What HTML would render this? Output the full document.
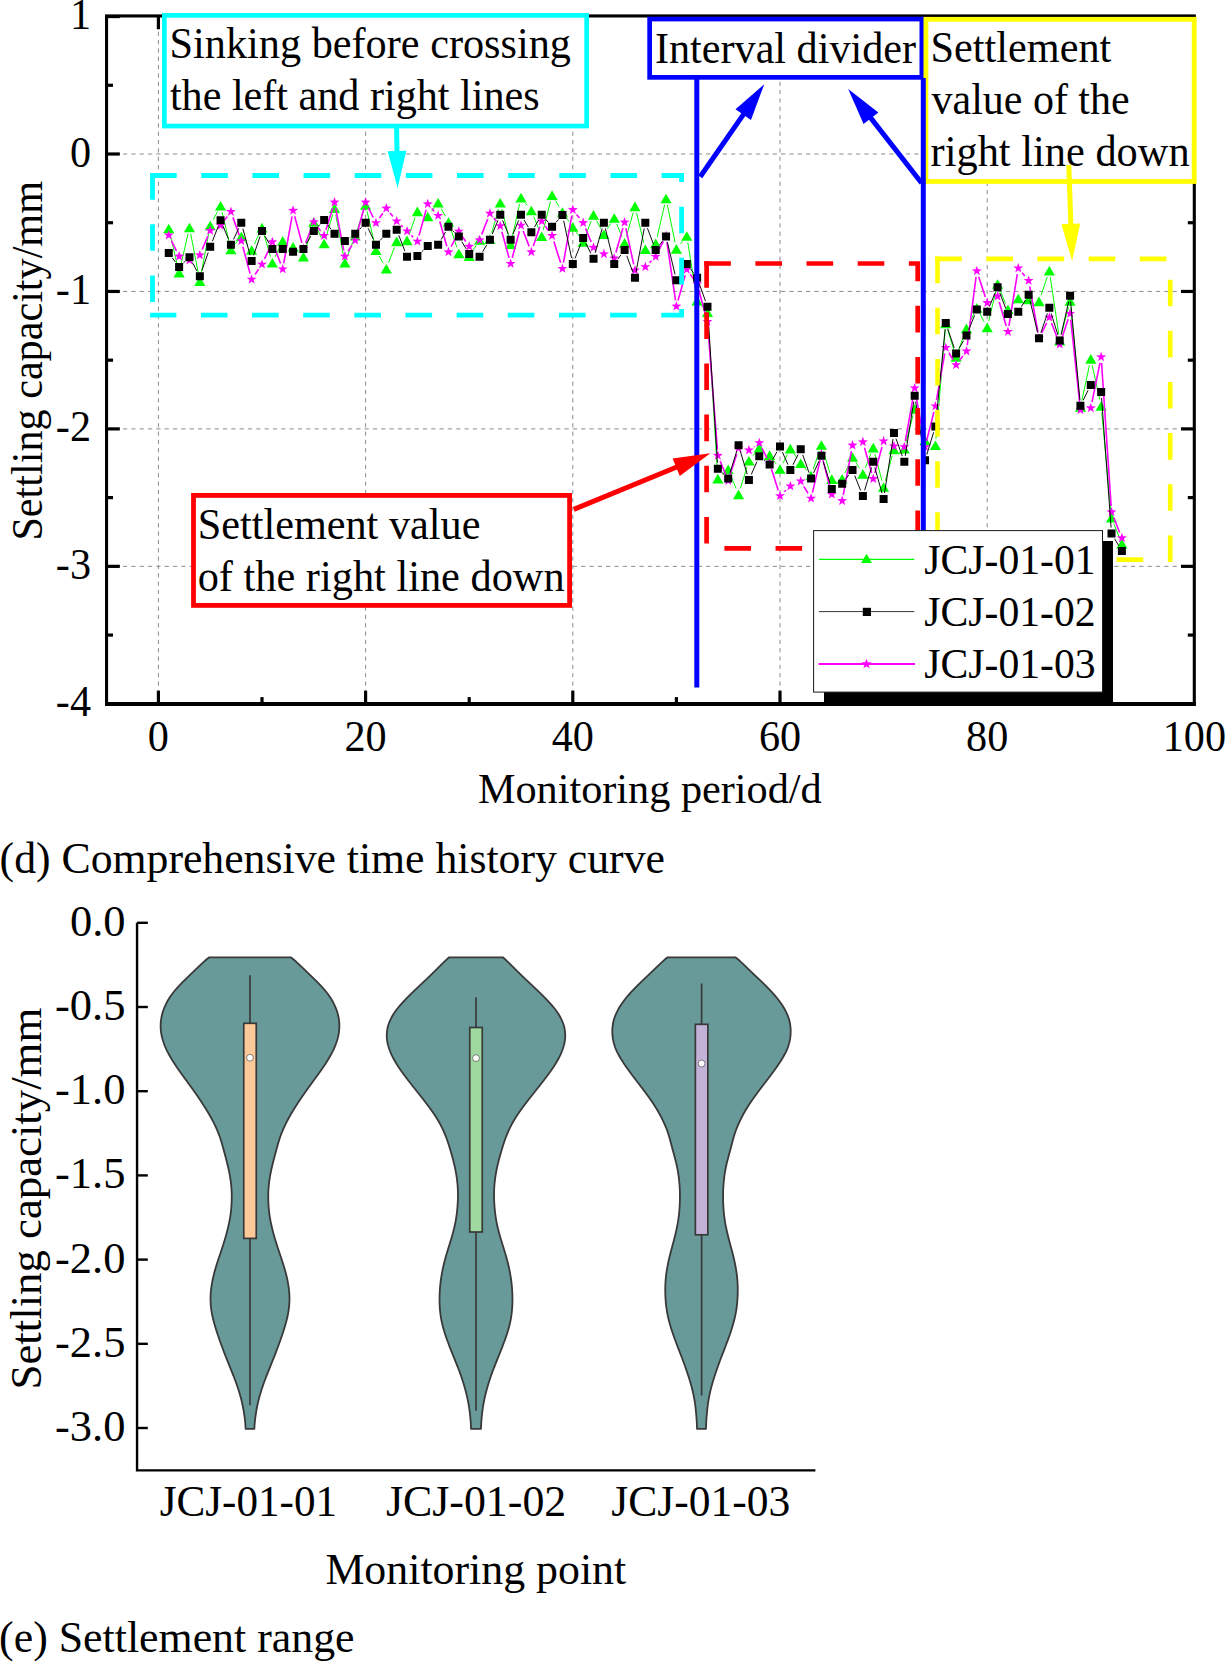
<!DOCTYPE html>
<html><head><meta charset="utf-8"><style>
html,body{margin:0;padding:0;background:#fff;overflow:hidden;}
svg{display:block;}
</style></head><body>
<svg width="1225" height="1662" viewBox="0 0 1225 1662">
<rect width="1225" height="1662" fill="#fff"/>
<g stroke="#8c8c8c" stroke-width="1" stroke-dasharray="4.2 4.13" fill="none"><line x1="158.40" y1="15.05" x2="158.40" y2="702" /><line x1="365.60" y1="15.05" x2="365.60" y2="702" /><line x1="572.80" y1="15.05" x2="572.80" y2="702" /><line x1="780.00" y1="15.05" x2="780.00" y2="702" /><line x1="987.20" y1="15.05" x2="987.20" y2="702" /><line x1="106.34" y1="154.00" x2="1192.4" y2="154.00" /><line x1="106.34" y1="291.45" x2="1192.4" y2="291.45" /><line x1="106.34" y1="428.90" x2="1192.4" y2="428.90" /><line x1="106.34" y1="566.35" x2="1192.4" y2="566.35" /></g>
<g stroke="#000" stroke-width="3.2" fill="none"><line x1="158.40" y1="704.0" x2="158.40" y2="690.7" /><line x1="158.40" y1="15.95" x2="158.40" y2="29.25" /><line x1="262.00" y1="704.0" x2="262.00" y2="697.1" /><line x1="262.00" y1="15.95" x2="262.00" y2="22.85" /><line x1="365.60" y1="704.0" x2="365.60" y2="690.7" /><line x1="365.60" y1="15.95" x2="365.60" y2="29.25" /><line x1="469.20" y1="704.0" x2="469.20" y2="697.1" /><line x1="469.20" y1="15.95" x2="469.20" y2="22.85" /><line x1="572.80" y1="704.0" x2="572.80" y2="690.7" /><line x1="572.80" y1="15.95" x2="572.80" y2="29.25" /><line x1="676.40" y1="704.0" x2="676.40" y2="697.1" /><line x1="676.40" y1="15.95" x2="676.40" y2="22.85" /><line x1="780.00" y1="704.0" x2="780.00" y2="690.7" /><line x1="780.00" y1="15.95" x2="780.00" y2="29.25" /><line x1="883.60" y1="704.0" x2="883.60" y2="697.1" /><line x1="883.60" y1="15.95" x2="883.60" y2="22.85" /><line x1="987.20" y1="704.0" x2="987.20" y2="690.7" /><line x1="987.20" y1="15.95" x2="987.20" y2="29.25" /><line x1="1090.80" y1="704.0" x2="1090.80" y2="697.1" /><line x1="1090.80" y1="15.95" x2="1090.80" y2="22.85" /><line x1="106.55" y1="16.55" x2="119.85" y2="16.55" /><line x1="1194.3" y1="16.55" x2="1181.0" y2="16.55" /><line x1="106.55" y1="85.28" x2="113.05" y2="85.28" /><line x1="1194.3" y1="85.28" x2="1187.8" y2="85.28" /><line x1="106.55" y1="154.00" x2="119.85" y2="154.00" /><line x1="1194.3" y1="154.00" x2="1181.0" y2="154.00" /><line x1="106.55" y1="222.72" x2="113.05" y2="222.72" /><line x1="1194.3" y1="222.72" x2="1187.8" y2="222.72" /><line x1="106.55" y1="291.45" x2="119.85" y2="291.45" /><line x1="1194.3" y1="291.45" x2="1181.0" y2="291.45" /><line x1="106.55" y1="360.17" x2="113.05" y2="360.17" /><line x1="1194.3" y1="360.17" x2="1187.8" y2="360.17" /><line x1="106.55" y1="428.90" x2="119.85" y2="428.90" /><line x1="1194.3" y1="428.90" x2="1181.0" y2="428.90" /><line x1="106.55" y1="497.62" x2="113.05" y2="497.62" /><line x1="1194.3" y1="497.62" x2="1187.8" y2="497.62" /><line x1="106.55" y1="566.35" x2="119.85" y2="566.35" /><line x1="1194.3" y1="566.35" x2="1181.0" y2="566.35" /><line x1="106.55" y1="635.07" x2="113.05" y2="635.07" /><line x1="1194.3" y1="635.07" x2="1187.8" y2="635.07" /><line x1="106.55" y1="703.80" x2="119.85" y2="703.80" /><line x1="1194.3" y1="703.80" x2="1181.0" y2="703.80" /></g>
<rect x="106.55" y="15.95" width="1087.75" height="688.05" fill="none" stroke="#000" stroke-width="3.1"/>
<line x1="105.0" y1="704.0" x2="1195.85" y2="704.0" stroke="#000" stroke-width="3.8"/>
<g font-family='"Liberation Serif", serif' font-size="43.3" fill="#000"><text x="91" y="29.05" text-anchor="end" textLength="21.10" lengthAdjust="spacingAndGlyphs">1</text><text x="91" y="166.50" text-anchor="end" textLength="21.10" lengthAdjust="spacingAndGlyphs">0</text><text x="91" y="303.95" text-anchor="end" textLength="35.15" lengthAdjust="spacingAndGlyphs">-1</text><text x="91" y="441.40" text-anchor="end" textLength="35.15" lengthAdjust="spacingAndGlyphs">-2</text><text x="91" y="578.85" text-anchor="end" textLength="35.15" lengthAdjust="spacingAndGlyphs">-3</text><text x="91" y="716.30" text-anchor="end" textLength="35.15" lengthAdjust="spacingAndGlyphs">-4</text><text x="158.40" y="751.2" text-anchor="middle" textLength="21.10" lengthAdjust="spacingAndGlyphs">0</text><text x="365.60" y="751.2" text-anchor="middle" textLength="42.20" lengthAdjust="spacingAndGlyphs">20</text><text x="572.80" y="751.2" text-anchor="middle" textLength="42.20" lengthAdjust="spacingAndGlyphs">40</text><text x="780.00" y="751.2" text-anchor="middle" textLength="42.20" lengthAdjust="spacingAndGlyphs">60</text><text x="987.20" y="751.2" text-anchor="middle" textLength="42.20" lengthAdjust="spacingAndGlyphs">80</text><text x="1194.40" y="751.2" text-anchor="middle" textLength="63.30" lengthAdjust="spacingAndGlyphs">100</text></g>
<text x="477.9" y="803.4" font-family='"Liberation Serif", serif' font-size="43.0" textLength="343.8" lengthAdjust="spacingAndGlyphs">Monitoring period/d</text>
<text transform="translate(41.6 540.6) rotate(-90)" font-family='"Liberation Serif", serif' font-size="44.4" textLength="359.6" lengthAdjust="spacingAndGlyphs">Settling capacity/mm</text>
<path d="M170.25 234.84L177.63 266.25M180.58 266.24L188.02 233.82M190.71 233.87L198.61 274.77M201.03 274.76L209.01 231.82M213.22 219.68L217.54 211.47M222.06 212.04L229.42 243.11M235.00 244.37L237.20 241.64M245.26 241.71L247.66 244.81M254.38 244.05L259.26 233.55M263.84 233.89L270.52 256.57M275.13 256.93L279.95 246.74M297.77 251.36L298.75 252.30M305.29 250.57L311.95 228.23M316.63 227.85L321.33 237.58M326.00 237.20L332.68 214.52M335.74 214.67L343.66 256.25M347.21 256.57L352.91 241.78M357.31 229.56L363.53 211.02M367.05 211.20L374.51 243.95M379.13 255.96L383.15 263.13M388.62 262.72L394.38 247.46M409.23 234.23L415.21 217.49M431.68 211.33L434.20 207.99M441.21 208.52L445.39 216.28M450.52 228.17L456.80 247.20M472.69 250.81L476.07 245.49M491.70 232.90L498.50 209.05M501.85 209.11L509.07 237.98M512.05 237.94L519.59 204.00M525.08 202.72L527.28 205.45M533.79 216.55L539.29 230.20M543.31 229.93L550.49 201.39M555.47 200.63L559.05 206.46M566.15 217.34L569.09 221.58M576.48 232.28L579.48 236.65M585.48 235.93L591.20 220.99M596.59 220.65L600.81 228.56M607.37 228.80L610.75 223.49M616.74 224.00L622.10 236.86M626.37 236.61L633.19 212.60M636.49 212.66L643.79 242.89M657.14 237.04L664.58 204.79M667.35 204.83L675.09 242.49M680.48 243.80L682.68 241.07M687.79 242.42L696.09 294.22M701.44 305.49L703.16 307.44M707.88 318.78L717.44 472.11M722.65 474.23L723.39 473.57M730.67 475.21L736.09 488.39M740.48 488.19L747.00 467.01M752.97 455.72L755.23 452.88M773.52 460.31L776.12 463.79M782.94 463.20L787.42 454.40M794.10 453.91L796.98 457.99M804.93 468.25L806.87 470.55M813.17 469.35L819.35 451.15M823.33 451.22L829.91 472.88M844.95 472.93L849.73 462.87M855.92 462.54L859.48 468.36M865.26 467.85L870.86 453.65M874.89 453.89L881.95 480.71M885.33 480.73L892.23 455.67M905.97 442.31L913.03 415.29M916.72 415.17L923.00 434.23M935.95 438.82L945.21 329.98M947.68 329.71L954.20 350.79M958.33 350.89L964.27 334.51M969.41 322.60L973.91 313.70M979.89 313.64L984.15 321.66M988.71 321.08L996.05 290.32M1000.02 290.02L1005.46 303.28M1012.42 304.61L1013.78 303.19M1041.08 295.24L1047.28 276.96M1050.31 277.23L1058.77 334.17M1061.37 334.31L1068.43 307.29M1070.71 307.47L1079.81 400.53M1081.81 400.65L1089.43 365.25M1092.20 365.25L1099.76 399.65M1101.76 412.47L1110.92 511.33M1113.93 523.84L1119.47 537.76" stroke="#00ff00" stroke-width="1.0" fill="none"/>
<path d="M168.76 223.72L174.36 233.32L163.16 233.32ZM179.12 267.78L184.72 277.38L173.52 277.38ZM189.48 222.69L195.08 232.29L183.88 232.29ZM199.84 276.35L205.44 285.95L194.24 285.95ZM210.20 220.63L215.80 230.23L204.60 230.23ZM220.56 200.92L226.16 210.52L214.96 210.52ZM230.92 244.63L236.52 254.23L225.32 254.23ZM241.28 231.77L246.88 241.37L235.68 241.37ZM251.64 245.15L257.24 254.75L246.04 254.75ZM262.00 222.86L267.60 232.46L256.40 232.46ZM272.36 258.00L277.96 267.60L266.76 267.60ZM282.72 236.06L288.32 245.66L277.12 245.66ZM293.08 242.06L298.68 251.66L287.48 251.66ZM303.44 252.00L309.04 261.60L297.84 261.60ZM313.80 217.20L319.40 226.80L308.20 226.80ZM324.16 238.63L329.76 248.23L318.56 248.23ZM334.52 203.49L340.12 213.09L328.92 213.09ZM344.88 257.83L350.48 267.43L339.28 267.43ZM355.24 230.92L360.84 240.52L349.64 240.52ZM365.60 200.06L371.20 209.66L360.00 209.66ZM375.96 245.49L381.56 255.09L370.36 255.09ZM386.32 264.01L391.92 273.61L380.72 273.61ZM396.68 236.57L402.28 246.17L391.08 246.17ZM407.04 235.55L412.64 245.15L401.44 245.15ZM417.40 206.57L423.00 216.17L411.80 216.17ZM427.76 211.72L433.36 221.32L422.16 221.32ZM438.12 198.00L443.72 207.60L432.52 207.60ZM448.48 217.20L454.08 226.80L442.88 226.80ZM458.84 248.58L464.44 258.18L453.24 258.18ZM469.20 251.49L474.80 261.09L463.60 261.09ZM479.56 235.20L485.16 244.80L473.96 244.80ZM489.92 234.35L495.52 243.95L484.32 243.95ZM500.28 198.00L505.88 207.60L494.68 207.60ZM510.64 239.49L516.24 249.09L505.04 249.09ZM521.00 192.86L526.60 202.46L515.40 202.46ZM531.36 205.72L536.96 215.32L525.76 215.32ZM541.72 231.43L547.32 241.03L536.12 241.03ZM552.08 190.29L557.68 199.89L546.48 199.89ZM562.44 207.20L568.04 216.80L556.84 216.80ZM572.80 222.12L578.40 231.72L567.20 231.72ZM583.16 237.20L588.76 246.80L577.56 246.80ZM593.52 210.12L599.12 219.72L587.92 219.72ZM603.88 229.49L609.48 239.09L598.28 239.09ZM614.24 213.20L619.84 222.80L608.64 222.80ZM624.60 238.06L630.20 247.66L619.00 247.66ZM634.96 201.54L640.56 211.14L629.36 211.14ZM645.32 244.40L650.92 254.00L639.72 254.00ZM655.68 238.58L661.28 248.18L650.08 248.18ZM666.04 193.66L671.64 203.26L660.44 203.26ZM676.40 244.06L682.00 253.66L670.80 253.66ZM686.76 231.20L692.36 240.80L681.16 240.80ZM697.12 295.84L702.72 305.44L691.52 305.44ZM707.48 307.49L713.08 317.09L701.88 317.09ZM717.84 473.80L723.44 483.40L712.24 483.40ZM728.20 464.40L733.80 474.00L722.60 474.00ZM738.56 489.60L744.16 499.20L732.96 499.20ZM748.92 456.00L754.52 465.60L743.32 465.60ZM759.28 443.00L764.88 452.60L753.68 452.60ZM769.64 450.30L775.24 459.90L764.04 459.90ZM780.00 464.20L785.60 473.80L774.40 473.80ZM790.36 443.80L795.96 453.40L784.76 453.40ZM800.72 458.50L806.32 468.10L795.12 468.10ZM811.08 470.70L816.68 480.30L805.48 480.30ZM821.44 440.20L827.04 449.80L815.84 449.80ZM831.80 474.30L837.40 483.90L826.20 483.90ZM842.16 474.00L847.76 483.60L836.56 483.60ZM852.52 452.20L858.12 461.80L846.92 461.80ZM862.88 469.10L868.48 478.70L857.28 478.70ZM873.24 442.80L878.84 452.40L867.64 452.40ZM883.60 482.20L889.20 491.80L878.00 491.80ZM893.96 444.60L899.56 454.20L888.36 454.20ZM904.32 443.80L909.92 453.40L898.72 453.40ZM914.68 404.20L920.28 413.80L909.08 413.80ZM925.04 435.60L930.64 445.20L919.44 445.20ZM935.40 440.50L941.00 450.10L929.80 450.10ZM945.76 318.70L951.36 328.30L940.16 328.30ZM956.12 352.20L961.72 361.80L950.52 361.80ZM966.48 323.60L972.08 333.20L960.88 333.20ZM976.84 303.10L982.44 312.70L971.24 312.70ZM987.20 322.60L992.80 332.20L981.60 332.20ZM997.56 279.20L1003.16 288.80L991.96 288.80ZM1007.92 304.50L1013.52 314.10L1002.32 314.10ZM1018.28 293.70L1023.88 303.30L1012.68 303.30ZM1028.64 294.70L1034.24 304.30L1023.04 304.30ZM1039.00 296.60L1044.60 306.20L1033.40 306.20ZM1049.36 266.00L1054.96 275.60L1043.76 275.60ZM1059.72 335.80L1065.32 345.40L1054.12 345.40ZM1070.08 296.20L1075.68 305.80L1064.48 305.80ZM1080.44 402.20L1086.04 411.80L1074.84 411.80ZM1090.80 354.10L1096.40 363.70L1085.20 363.70ZM1101.16 401.20L1106.76 410.80L1095.56 410.80ZM1111.52 513.00L1117.12 522.60L1105.92 522.60ZM1121.88 539.00L1127.48 548.60L1116.28 548.60Z" fill="#00ff00"/>
<path d="M171.41 240.59L176.47 250.90M202.18 249.56L207.86 236.10M224.18 220.64L227.30 216.50M232.93 217.37L239.27 235.21M242.84 246.66L250.08 273.64M255.04 274.49L258.60 269.29M264.53 258.91L269.83 247.50M274.50 247.66L280.58 263.54M283.76 263.24L292.04 216.42M294.66 216.31L301.86 242.79M305.62 242.99L311.62 227.59M317.42 226.79L320.54 230.93M325.94 229.99L332.74 208.02M335.65 208.18L343.75 250.40M348.15 251.26L351.97 245.38M356.82 234.56L364.02 208.08M368.30 207.65L373.26 217.50M379.44 217.97L382.84 213.18M390.08 212.96L392.92 216.47M401.01 225.30L402.71 226.93M411.30 235.32L413.14 237.15M419.00 235.59L426.16 209.78M431.75 208.49L434.13 211.17M439.76 221.43L446.84 246.23M451.18 246.65L456.14 236.79M462.24 236.38L465.80 241.57M474.28 243.32L474.48 243.20M481.74 234.41L487.74 219.02M493.75 218.05L496.45 221.32M501.87 231.73L509.05 257.88M512.21 257.87L519.43 231.22M523.18 231.02L529.18 246.41M533.27 246.32L539.81 226.83M545.20 226.04L548.60 230.83M553.88 241.44L560.64 262.85M563.48 262.67L571.76 215.68M576.53 214.47L579.43 218.11M585.48 228.34L591.20 241.96M598.60 250.68L598.80 250.81M615.90 252.52L622.94 228.05M625.87 228.15L633.69 264.43M649.58 262.64L651.42 260.80M658.38 251.22L663.34 241.36M666.91 241.94L675.53 300.36M678.02 300.52L685.14 275.21M690.24 274.32L693.64 279.12M698.71 289.79L705.89 315.94M707.94 327.71L717.38 449.52M720.12 461.05L725.92 475.15M730.02 474.98L736.74 453.92M753.82 446.74L754.38 446.36M762.00 448.25L766.92 457.95M771.46 469.02L778.18 490.18M784.36 491.78L786.00 490.22M803.82 486.34L807.98 493.26M812.45 492.56L820.07 460.14M822.94 460.11L830.30 488.49M836.88 497.49L837.08 497.61M843.26 494.90L851.42 451.20M864.51 447.78L871.61 473.02M874.83 473.02L882.01 446.98M905.36 440.99L913.64 394.11M915.72 394.11L924.00 440.99M926.52 441.08L933.92 411.92M936.45 400.19L944.71 353.51M948.84 352.75L953.04 359.75M959.74 360.11L962.86 355.99M967.25 345.25L976.07 276.95M978.70 276.70L985.34 297.10M992.28 299.61L992.48 299.49M999.25 302.06L1006.23 325.94M1008.89 325.78L1017.31 274.12M1022.13 272.80L1024.79 276.00M1029.70 286.51L1037.94 332.49M1041.65 333.02L1046.71 322.78M1051.51 323.00L1057.57 338.80M1061.63 338.71L1068.17 319.29M1070.72 319.57L1079.80 404.03M1091.99 402.12L1099.97 362.88M1101.56 362.99L1111.12 506.01M1113.74 517.57L1119.66 532.43" stroke="#ff00ff" stroke-width="1.6" fill="none"/>
<path d="M168.76 230.00L169.99 233.50L173.71 233.60L170.76 235.85L171.82 239.41L168.76 237.30L165.70 239.41L166.76 235.85L163.81 233.60L167.53 233.50ZM179.12 251.09L180.35 254.59L184.07 254.68L181.12 256.94L182.18 260.50L179.12 258.39L176.06 260.50L177.12 256.94L174.17 254.68L177.89 254.59ZM189.48 255.03L190.71 258.53L194.43 258.63L191.48 260.88L192.54 264.44L189.48 262.33L186.42 264.44L187.48 260.88L184.53 258.63L188.25 258.53ZM199.84 249.89L201.07 253.39L204.79 253.48L201.84 255.74L202.90 259.30L199.84 257.19L196.78 259.30L197.84 255.74L194.89 253.48L198.61 253.39ZM210.20 225.37L211.43 228.88L215.15 228.97L212.20 231.22L213.26 234.78L210.20 232.67L207.14 234.78L208.20 231.22L205.25 228.97L208.97 228.88ZM220.56 220.23L221.79 223.73L225.51 223.82L222.56 226.08L223.62 229.64L220.56 227.53L217.50 229.64L218.56 226.08L215.61 223.82L219.33 223.73ZM230.92 206.52L232.15 210.02L235.87 210.11L232.92 212.37L233.98 215.92L230.92 213.82L227.86 215.92L228.92 212.37L225.97 210.11L229.69 210.02ZM241.28 235.66L242.51 239.16L246.23 239.25L243.28 241.51L244.34 245.07L241.28 242.96L238.22 245.07L239.28 241.51L236.33 239.25L240.05 239.16ZM251.64 274.23L252.87 277.74L256.59 277.83L253.64 280.08L254.70 283.64L251.64 281.53L248.58 283.64L249.64 280.08L246.69 277.83L250.41 277.74ZM262.00 259.15L263.23 262.65L266.95 262.74L264.00 265.00L265.06 268.55L262.00 266.45L258.94 268.55L260.00 265.00L257.05 262.74L260.77 262.65ZM272.36 236.86L273.59 240.36L277.31 240.45L274.36 242.71L275.42 246.27L272.36 244.16L269.30 246.27L270.36 242.71L267.41 240.45L271.13 240.36ZM282.72 263.95L283.95 267.45L287.67 267.54L284.72 269.80L285.78 273.35L282.72 271.25L279.66 273.35L280.72 269.80L277.77 267.54L281.49 267.45ZM293.08 205.32L294.31 208.82L298.03 208.91L295.08 211.16L296.14 214.72L293.08 212.62L290.02 214.72L291.08 211.16L288.13 208.91L291.85 208.82ZM303.44 243.38L304.67 246.88L308.39 246.97L305.44 249.22L306.50 252.78L303.44 250.68L300.38 252.78L301.44 249.22L298.49 246.97L302.21 246.88ZM313.80 216.80L315.03 220.30L318.75 220.40L315.80 222.65L316.86 226.21L313.80 224.10L310.74 226.21L311.80 222.65L308.85 220.40L312.57 220.30ZM324.16 230.52L325.39 234.02L329.11 234.11L326.16 236.37L327.22 239.92L324.16 237.82L321.10 239.92L322.16 236.37L319.21 234.11L322.93 234.02ZM334.52 197.09L335.75 200.59L339.47 200.68L336.52 202.94L337.58 206.49L334.52 204.39L331.46 206.49L332.52 202.94L329.57 200.68L333.29 200.59ZM344.88 251.09L346.11 254.59L349.83 254.68L346.88 256.94L347.94 260.50L344.88 258.39L341.82 260.50L342.88 256.94L339.93 254.68L343.65 254.59ZM355.24 235.15L356.47 238.65L360.19 238.74L357.24 241.00L358.30 244.55L355.24 242.45L352.18 244.55L353.24 241.00L350.29 238.74L354.01 238.65ZM365.60 197.09L366.83 200.59L370.55 200.68L367.60 202.94L368.66 206.49L365.60 204.39L362.54 206.49L363.60 202.94L360.65 200.68L364.37 200.59ZM375.96 217.66L377.19 221.16L380.91 221.25L377.96 223.51L379.02 227.07L375.96 224.96L372.90 227.07L373.96 223.51L371.01 221.25L374.73 221.16ZM386.32 203.09L387.55 206.59L391.27 206.68L388.32 208.94L389.38 212.49L386.32 210.39L383.26 212.49L384.32 208.94L381.37 206.68L385.09 206.59ZM396.68 215.95L397.91 219.45L401.63 219.54L398.68 221.79L399.74 225.35L396.68 223.25L393.62 225.35L394.68 221.79L391.73 219.54L395.45 219.45ZM407.04 225.89L408.27 229.39L411.99 229.48L409.04 231.74L410.10 235.30L407.04 233.19L403.98 235.30L405.04 231.74L402.09 229.48L405.81 229.39ZM417.40 236.17L418.63 239.68L422.35 239.77L419.40 242.02L420.46 245.58L417.40 243.47L414.34 245.58L415.40 242.02L412.45 239.77L416.17 239.68ZM427.76 198.80L428.99 202.30L432.71 202.39L429.76 204.65L430.82 208.21L427.76 206.10L424.70 208.21L425.76 204.65L422.81 202.39L426.53 202.30ZM438.12 210.46L439.35 213.96L443.07 214.05L440.12 216.31L441.18 219.87L438.12 217.76L435.06 219.87L436.12 216.31L433.17 214.05L436.89 213.96ZM448.48 246.80L449.71 250.31L453.43 250.40L450.48 252.65L451.54 256.21L448.48 254.10L445.42 256.21L446.48 252.65L443.53 250.40L447.25 250.31ZM458.84 226.23L460.07 229.73L463.79 229.82L460.84 232.08L461.90 235.64L458.84 233.53L455.78 235.64L456.84 232.08L453.89 229.82L457.61 229.73ZM469.20 241.32L470.43 244.82L474.15 244.91L471.20 247.17L472.26 250.72L469.20 248.62L466.14 250.72L467.20 247.17L464.25 244.91L467.97 244.82ZM479.56 234.80L480.79 238.30L484.51 238.40L481.56 240.65L482.62 244.21L479.56 242.10L476.50 244.21L477.56 240.65L474.61 238.40L478.33 238.30ZM489.92 208.23L491.15 211.73L494.87 211.82L491.92 214.08L492.98 217.64L489.92 215.53L486.86 217.64L487.92 214.08L484.97 211.82L488.69 211.73ZM500.28 220.75L501.51 224.25L505.23 224.34L502.28 226.59L503.34 230.15L500.28 228.05L497.22 230.15L498.28 226.59L495.33 224.34L499.05 224.25ZM510.64 258.46L511.87 261.96L515.59 262.06L512.64 264.31L513.70 267.87L510.64 265.76L507.58 267.87L508.64 264.31L505.69 262.06L509.41 261.96ZM521.00 220.23L522.23 223.73L525.95 223.82L523.00 226.08L524.06 229.64L521.00 227.53L517.94 229.64L519.00 226.08L516.05 223.82L519.77 223.73ZM531.36 246.80L532.59 250.31L536.31 250.40L533.36 252.65L534.42 256.21L531.36 254.10L528.30 256.21L529.36 252.65L526.41 250.40L530.13 250.31ZM541.72 215.95L542.95 219.45L546.67 219.54L543.72 221.79L544.78 225.35L541.72 223.25L538.66 225.35L539.72 221.79L536.77 219.54L540.49 219.45ZM552.08 230.52L553.31 234.02L557.03 234.11L554.08 236.37L555.14 239.92L552.08 237.82L549.02 239.92L550.08 236.37L547.13 234.11L550.85 234.02ZM562.44 263.38L563.67 266.88L567.39 266.97L564.44 269.23L565.50 272.78L562.44 270.68L559.38 272.78L560.44 269.23L557.49 266.97L561.21 266.88ZM572.80 204.57L574.03 208.07L577.75 208.17L574.80 210.42L575.86 213.98L572.80 211.87L569.74 213.98L570.80 210.42L567.85 208.17L571.57 208.07ZM583.16 217.60L584.39 221.10L588.11 221.20L585.16 223.45L586.22 227.01L583.16 224.90L580.10 227.01L581.16 223.45L578.21 221.20L581.93 221.10ZM593.52 242.29L594.75 245.79L598.47 245.88L595.52 248.14L596.58 251.70L593.52 249.59L590.46 251.70L591.52 248.14L588.57 245.88L592.29 245.79ZM603.88 248.80L605.11 252.31L608.83 252.40L605.88 254.65L606.94 258.21L603.88 256.10L600.82 258.21L601.88 254.65L598.93 252.40L602.65 252.31ZM614.24 253.09L615.47 256.59L619.19 256.68L616.24 258.94L617.30 262.50L614.24 260.39L611.18 262.50L612.24 258.94L609.29 256.68L613.01 256.59ZM624.60 217.09L625.83 220.59L629.55 220.68L626.60 222.94L627.66 226.50L624.60 224.39L621.54 226.50L622.60 222.94L619.65 220.68L623.37 220.59ZM634.96 265.09L636.19 268.59L639.91 268.68L636.96 270.94L638.02 274.50L634.96 272.39L631.90 274.50L632.96 270.94L630.01 268.68L633.73 268.59ZM645.32 261.66L646.55 265.16L650.27 265.26L647.32 267.51L648.38 271.07L645.32 268.96L642.26 271.07L643.32 267.51L640.37 265.26L644.09 265.16ZM655.68 251.38L656.91 254.88L660.63 254.97L657.68 257.23L658.74 260.78L655.68 258.68L652.62 260.78L653.68 257.23L650.73 254.97L654.45 254.88ZM666.04 230.80L667.27 234.30L670.99 234.40L668.04 236.65L669.10 240.21L666.04 238.10L662.98 240.21L664.04 236.65L661.09 234.40L664.81 234.30ZM676.40 301.09L677.63 304.59L681.35 304.69L678.40 306.94L679.46 310.50L676.40 308.39L673.34 310.50L674.40 306.94L671.45 304.69L675.17 304.59ZM686.76 264.23L687.99 267.74L691.71 267.83L688.76 270.08L689.82 273.64L686.76 271.53L683.70 273.64L684.76 270.08L681.81 267.83L685.53 267.74ZM697.12 278.81L698.35 282.31L702.07 282.40L699.12 284.66L700.18 288.21L697.12 286.11L694.06 288.21L695.12 284.66L692.17 282.40L695.89 282.31ZM707.48 316.52L708.71 320.02L712.43 320.12L709.48 322.37L710.54 325.93L707.48 323.82L704.42 325.93L705.48 322.37L702.53 320.12L706.25 320.02ZM717.84 450.30L719.07 453.80L722.79 453.89L719.84 456.15L720.90 459.71L717.84 457.60L714.78 459.71L715.84 456.15L712.89 453.89L716.61 453.80ZM728.20 475.50L729.43 479.00L733.15 479.09L730.20 481.35L731.26 484.91L728.20 482.80L725.14 484.91L726.20 481.35L723.25 479.09L726.97 479.00ZM738.56 443.00L739.79 446.50L743.51 446.59L740.56 448.85L741.62 452.41L738.56 450.30L735.50 452.41L736.56 448.85L733.61 446.59L737.33 446.50ZM748.92 445.00L750.15 448.50L753.87 448.59L750.92 450.85L751.98 454.41L748.92 452.30L745.86 454.41L746.92 450.85L743.97 448.59L747.69 448.50ZM759.28 437.70L760.51 441.20L764.23 441.29L761.28 443.55L762.34 447.11L759.28 445.00L756.22 447.11L757.28 443.55L754.33 441.29L758.05 441.20ZM769.64 458.10L770.87 461.60L774.59 461.69L771.64 463.95L772.70 467.51L769.64 465.40L766.58 467.51L767.64 463.95L764.69 461.69L768.41 461.60ZM780.00 490.70L781.23 494.20L784.95 494.29L782.00 496.55L783.06 500.11L780.00 498.00L776.94 500.11L778.00 496.55L775.05 494.29L778.77 494.20ZM790.36 480.90L791.59 484.40L795.31 484.49L792.36 486.75L793.42 490.31L790.36 488.20L787.30 490.31L788.36 486.75L785.41 484.49L789.13 484.40ZM800.72 476.00L801.95 479.50L805.67 479.59L802.72 481.85L803.78 485.41L800.72 483.30L797.66 485.41L798.72 481.85L795.77 479.59L799.49 479.50ZM811.08 493.20L812.31 496.70L816.03 496.79L813.08 499.05L814.14 502.61L811.08 500.50L808.02 502.61L809.08 499.05L806.13 496.79L809.85 496.70ZM821.44 449.10L822.67 452.60L826.39 452.69L823.44 454.95L824.50 458.51L821.44 456.40L818.38 458.51L819.44 454.95L816.49 452.69L820.21 452.60ZM831.80 489.10L833.03 492.60L836.75 492.69L833.80 494.95L834.86 498.51L831.80 496.40L828.74 498.51L829.80 494.95L826.85 492.69L830.57 492.60ZM842.16 495.60L843.39 499.10L847.11 499.19L844.16 501.45L845.22 505.01L842.16 502.90L839.10 505.01L840.16 501.45L837.21 499.19L840.93 499.10ZM852.52 440.10L853.75 443.60L857.47 443.69L854.52 445.95L855.58 449.51L852.52 447.40L849.46 449.51L850.52 445.95L847.57 443.69L851.29 443.60ZM862.88 436.80L864.11 440.30L867.83 440.39L864.88 442.65L865.94 446.21L862.88 444.10L859.82 446.21L860.88 442.65L857.93 440.39L861.65 440.30ZM873.24 473.60L874.47 477.10L878.19 477.19L875.24 479.45L876.30 483.01L873.24 480.90L870.18 483.01L871.24 479.45L868.29 477.19L872.01 477.10ZM883.60 436.00L884.83 439.50L888.55 439.59L885.60 441.85L886.66 445.41L883.60 443.30L880.54 445.41L881.60 441.85L878.65 439.59L882.37 439.50ZM893.96 440.90L895.19 444.40L898.91 444.49L895.96 446.75L897.02 450.31L893.96 448.20L890.90 450.31L891.96 446.75L889.01 444.49L892.73 444.40ZM904.32 441.70L905.55 445.20L909.27 445.29L906.32 447.55L907.38 451.11L904.32 449.00L901.26 451.11L902.32 447.55L899.37 445.29L903.09 445.20ZM914.68 383.00L915.91 386.50L919.63 386.59L916.68 388.85L917.74 392.41L914.68 390.30L911.62 392.41L912.68 388.85L909.73 386.59L913.45 386.50ZM925.04 441.70L926.27 445.20L929.99 445.29L927.04 447.55L928.10 451.11L925.04 449.00L921.98 451.11L923.04 447.55L920.09 445.29L923.81 445.20ZM935.40 400.90L936.63 404.40L940.35 404.49L937.40 406.75L938.46 410.31L935.40 408.20L932.34 410.31L933.40 406.75L930.45 404.49L934.17 404.40ZM945.76 342.40L946.99 345.90L950.71 345.99L947.76 348.25L948.82 351.81L945.76 349.70L942.70 351.81L943.76 348.25L940.81 345.99L944.53 345.90ZM956.12 359.70L957.35 363.20L961.07 363.29L958.12 365.55L959.18 369.11L956.12 367.00L953.06 369.11L954.12 365.55L951.17 363.29L954.89 363.20ZM966.48 346.00L967.71 349.50L971.43 349.59L968.48 351.85L969.54 355.41L966.48 353.30L963.42 355.41L964.48 351.85L961.53 349.59L965.25 349.50ZM976.84 265.80L978.07 269.30L981.79 269.39L978.84 271.65L979.90 275.21L976.84 273.10L973.78 275.21L974.84 271.65L971.89 269.39L975.61 269.30ZM987.20 297.60L988.43 301.10L992.15 301.19L989.20 303.45L990.26 307.01L987.20 304.90L984.14 307.01L985.20 303.45L982.25 301.19L985.97 301.10ZM997.56 291.10L998.79 294.60L1002.51 294.69L999.56 296.95L1000.62 300.51L997.56 298.40L994.50 300.51L995.56 296.95L992.61 294.69L996.33 294.60ZM1007.92 326.50L1009.15 330.00L1012.87 330.09L1009.92 332.35L1010.98 335.91L1007.92 333.80L1004.86 335.91L1005.92 332.35L1002.97 330.09L1006.69 330.00ZM1018.28 263.00L1019.51 266.50L1023.23 266.59L1020.28 268.85L1021.34 272.41L1018.28 270.30L1015.22 272.41L1016.28 268.85L1013.33 266.59L1017.05 266.50ZM1028.64 275.40L1029.87 278.90L1033.59 278.99L1030.64 281.25L1031.70 284.81L1028.64 282.70L1025.58 284.81L1026.64 281.25L1023.69 278.99L1027.41 278.90ZM1039.00 333.20L1040.23 336.70L1043.95 336.79L1041.00 339.05L1042.06 342.61L1039.00 340.50L1035.94 342.61L1037.00 339.05L1034.05 336.79L1037.77 336.70ZM1049.36 312.20L1050.59 315.70L1054.31 315.79L1051.36 318.05L1052.42 321.61L1049.36 319.50L1046.30 321.61L1047.36 318.05L1044.41 315.79L1048.13 315.70ZM1059.72 339.20L1060.95 342.70L1064.67 342.79L1061.72 345.05L1062.78 348.61L1059.72 346.50L1056.66 348.61L1057.72 345.05L1054.77 342.79L1058.49 342.70ZM1070.08 308.40L1071.31 311.90L1075.03 311.99L1072.08 314.25L1073.14 317.81L1070.08 315.70L1067.02 317.81L1068.08 314.25L1065.13 311.99L1068.85 311.90ZM1080.44 404.80L1081.67 408.30L1085.39 408.39L1082.44 410.65L1083.50 414.21L1080.44 412.10L1077.38 414.21L1078.44 410.65L1075.49 408.39L1079.21 408.30ZM1090.80 402.80L1092.03 406.30L1095.75 406.39L1092.80 408.65L1093.86 412.21L1090.80 410.10L1087.74 412.21L1088.80 408.65L1085.85 406.39L1089.57 406.30ZM1101.16 351.80L1102.39 355.30L1106.11 355.39L1103.16 357.65L1104.22 361.21L1101.16 359.10L1098.10 361.21L1099.16 357.65L1096.21 355.39L1099.93 355.30ZM1111.52 506.80L1112.75 510.30L1116.47 510.39L1113.52 512.65L1114.58 516.21L1111.52 514.10L1108.46 516.21L1109.52 512.65L1106.57 510.39L1110.29 510.30ZM1121.88 532.80L1123.11 536.30L1126.83 536.39L1123.88 538.65L1124.94 542.21L1121.88 540.10L1118.82 542.21L1119.88 538.65L1116.93 536.39L1120.65 536.30Z" fill="#ff00ff"/>
<path d="M172.35 257.84L175.53 262.11M183.48 262.80L185.12 261.26M192.33 262.43L196.99 271.07M201.83 270.69L208.21 252.52M212.38 241.27L218.38 225.88M222.90 225.81L228.58 239.28M233.48 239.38L238.72 228.29M242.86 228.65L250.06 255.13M253.60 255.25L260.04 236.59M264.99 236.12L269.37 243.72M306.43 243.72L310.81 236.12M317.95 226.59L320.01 224.45M327.78 224.90L330.90 229.04M339.45 237.26L339.95 237.61M349.81 237.61L350.31 237.26M359.36 229.47L361.48 227.22M368.16 228.29L373.40 239.38M380.08 240.44L382.20 238.19M398.82 235.32L404.90 251.20M421.73 251.79L423.43 250.16M441.11 239.60L445.49 232.00M452.84 230.92L454.48 232.46M461.90 241.74L466.14 248.90M482.66 251.67L486.82 244.80M492.23 234.12L497.97 220.34M502.59 220.34L508.33 234.12M512.95 234.12L518.69 220.34M524.06 219.96L528.30 227.13M534.42 227.13L538.66 219.96M545.64 219.34L548.16 222.26M556.02 222.28L558.50 219.44M563.68 220.79L571.56 258.08M575.03 258.38L580.93 243.63M585.86 243.42L590.82 253.27M595.18 252.87L602.22 228.40M605.34 228.45L612.78 258.13M617.83 259.14L621.01 254.87M626.71 255.68L632.85 272.05M636.07 271.77L644.21 228.53M647.44 228.24L653.56 244.45M659.33 245.30L662.39 241.28M667.42 242.36L675.02 274.40M679.62 275.17L683.54 269.01M690.38 268.74L693.50 272.88M699.13 283.32L705.47 301.15M707.86 312.80L717.46 462.71M722.18 472.85L723.86 474.45M729.98 472.87L736.78 451.03M740.28 451.05L747.20 474.15M751.32 474.40L756.88 461.70M763.98 459.92L764.94 460.68M772.66 459.21L776.98 451.79M782.42 452.09L787.94 464.61M793.02 464.72L798.06 454.58M802.73 454.85L809.07 472.75M813.58 472.95L818.94 461.25M823.23 461.53L830.01 483.17M845.78 478.91L848.90 474.79M854.73 475.58L860.67 490.52M864.61 490.36L871.51 467.54M874.85 467.58L881.99 493.12M884.53 492.97L893.03 438.93M895.99 438.65L902.29 456.15M905.25 455.87L913.75 401.73M915.63 401.72L924.09 454.38M926.80 454.56L933.64 432.24M936.00 420.53L945.16 328.97M947.68 328.68L954.20 347.92M959.11 348.40L963.49 340.80M968.70 330.03L974.62 315.17M989.53 306.27L995.23 292.73M999.72 292.80L1005.76 308.40M1021.40 306.68L1025.52 299.92M1030.03 300.64L1037.61 332.46M1040.93 332.62L1047.43 313.48M1051.17 313.52L1057.91 334.88M1061.07 334.75L1068.73 301.55M1070.64 301.67L1079.88 399.73M1083.12 400.33L1088.12 390.27M1095.75 388.29L1096.21 388.61M1101.60 397.98L1111.08 527.62M1114.59 538.76L1118.81 545.84" stroke="#000" stroke-width="0.95" fill="none"/>
<path d="M164.76 249.03h8.0v8.0h-8.0ZM175.12 262.92h8.0v8.0h-8.0ZM185.48 253.15h8.0v8.0h-8.0ZM195.84 272.35h8.0v8.0h-8.0ZM206.20 242.86h8.0v8.0h-8.0ZM216.56 216.29h8.0v8.0h-8.0ZM226.92 240.80h8.0v8.0h-8.0ZM237.28 218.86h8.0v8.0h-8.0ZM247.64 256.92h8.0v8.0h-8.0ZM258.00 226.92h8.0v8.0h-8.0ZM268.36 244.92h8.0v8.0h-8.0ZM278.72 244.92h8.0v8.0h-8.0ZM289.08 247.66h8.0v8.0h-8.0ZM299.44 244.92h8.0v8.0h-8.0ZM309.80 226.92h8.0v8.0h-8.0ZM320.16 216.12h8.0v8.0h-8.0ZM330.52 229.83h8.0v8.0h-8.0ZM340.88 237.03h8.0v8.0h-8.0ZM351.24 229.83h8.0v8.0h-8.0ZM361.60 218.86h8.0v8.0h-8.0ZM371.96 240.80h8.0v8.0h-8.0ZM382.32 229.83h8.0v8.0h-8.0ZM392.68 225.72h8.0v8.0h-8.0ZM403.04 252.80h8.0v8.0h-8.0ZM413.40 251.95h8.0v8.0h-8.0ZM423.76 242.00h8.0v8.0h-8.0ZM434.12 240.80h8.0v8.0h-8.0ZM444.48 222.80h8.0v8.0h-8.0ZM454.84 232.57h8.0v8.0h-8.0ZM465.20 250.06h8.0v8.0h-8.0ZM475.56 252.80h8.0v8.0h-8.0ZM485.92 235.66h8.0v8.0h-8.0ZM496.28 210.80h8.0v8.0h-8.0ZM506.64 235.66h8.0v8.0h-8.0ZM517.00 210.80h8.0v8.0h-8.0ZM527.36 228.29h8.0v8.0h-8.0ZM537.72 210.80h8.0v8.0h-8.0ZM548.08 222.80h8.0v8.0h-8.0ZM558.44 210.92h8.0v8.0h-8.0ZM568.80 259.95h8.0v8.0h-8.0ZM579.16 234.06h8.0v8.0h-8.0ZM589.52 254.63h8.0v8.0h-8.0ZM599.88 218.63h8.0v8.0h-8.0ZM610.24 259.95h8.0v8.0h-8.0ZM620.60 246.06h8.0v8.0h-8.0ZM630.96 273.66h8.0v8.0h-8.0ZM641.32 218.63h8.0v8.0h-8.0ZM651.68 246.06h8.0v8.0h-8.0ZM662.04 232.52h8.0v8.0h-8.0ZM672.40 276.23h8.0v8.0h-8.0ZM682.76 259.95h8.0v8.0h-8.0ZM693.12 273.66h8.0v8.0h-8.0ZM703.48 302.81h8.0v8.0h-8.0ZM713.84 464.70h8.0v8.0h-8.0ZM724.20 474.60h8.0v8.0h-8.0ZM734.56 441.30h8.0v8.0h-8.0ZM744.92 475.90h8.0v8.0h-8.0ZM755.28 452.20h8.0v8.0h-8.0ZM765.64 460.40h8.0v8.0h-8.0ZM776.00 442.60h8.0v8.0h-8.0ZM786.36 466.10h8.0v8.0h-8.0ZM796.72 445.20h8.0v8.0h-8.0ZM807.08 474.40h8.0v8.0h-8.0ZM817.44 451.80h8.0v8.0h-8.0ZM827.80 484.90h8.0v8.0h-8.0ZM838.16 479.70h8.0v8.0h-8.0ZM848.52 466.00h8.0v8.0h-8.0ZM858.88 492.10h8.0v8.0h-8.0ZM869.24 457.80h8.0v8.0h-8.0ZM879.60 494.90h8.0v8.0h-8.0ZM889.96 429.00h8.0v8.0h-8.0ZM900.32 457.80h8.0v8.0h-8.0ZM910.68 391.80h8.0v8.0h-8.0ZM921.04 456.30h8.0v8.0h-8.0ZM931.40 422.50h8.0v8.0h-8.0ZM941.76 319.00h8.0v8.0h-8.0ZM952.12 349.60h8.0v8.0h-8.0ZM962.48 331.60h8.0v8.0h-8.0ZM972.84 305.60h8.0v8.0h-8.0ZM983.20 307.80h8.0v8.0h-8.0ZM993.56 283.20h8.0v8.0h-8.0ZM1003.92 310.00h8.0v8.0h-8.0ZM1014.28 307.80h8.0v8.0h-8.0ZM1024.64 290.80h8.0v8.0h-8.0ZM1035.00 334.30h8.0v8.0h-8.0ZM1045.36 303.80h8.0v8.0h-8.0ZM1055.72 336.60h8.0v8.0h-8.0ZM1066.08 291.70h8.0v8.0h-8.0ZM1076.44 401.70h8.0v8.0h-8.0ZM1086.80 380.90h8.0v8.0h-8.0ZM1097.16 388.00h8.0v8.0h-8.0ZM1107.52 529.60h8.0v8.0h-8.0ZM1117.88 547.00h8.0v8.0h-8.0Z" fill="#000"/>
<path d="M150.10 175.50H681.60V315.20H150.10" fill="none" stroke="#00ffff" stroke-width="4.8" stroke-dasharray="26.6 24.55" stroke-linejoin="miter"/><path d="M152.50 173.10V317.60" fill="none" stroke="#00ffff" stroke-width="4.8" stroke-dasharray="26.6 24.55"/>
<path d="M704.25 263.50H917.70V548.30H704.25" fill="none" stroke="#ff0000" stroke-width="4.7" stroke-dasharray="26.6 24.55" stroke-linejoin="miter"/><path d="M706.60 261.15V550.65" fill="none" stroke="#ff0000" stroke-width="4.7" stroke-dasharray="26.6 24.55"/>
<path d="M935.20 258.90H1170.20V559.60H935.20" fill="none" stroke="#ffff00" stroke-width="4.6" stroke-dasharray="26.6 24.55" stroke-linejoin="miter"/><path d="M937.50 256.60V561.90" fill="none" stroke="#ffff00" stroke-width="4.6" stroke-dasharray="26.6 24.55"/>
<rect x="164.35" y="15.35" width="422.30" height="110.70" fill="#fff" stroke="#00ffff" stroke-width="4.7"/>
<rect x="649.65" y="19.05" width="272.20" height="58.30" fill="#fff" stroke="#0000ff" stroke-width="4.7"/>
<rect x="925.90" y="19.30" width="268.30" height="162.20" fill="#fff" stroke="#ffff00" stroke-width="4.8"/>
<rect x="193.50" y="495.40" width="376.10" height="110.00" fill="#fff" stroke="#ff0000" stroke-width="4.8"/>
<g stroke="#0000ff" stroke-width="5.0" fill="none"><line x1="696.8" y1="78" x2="696.8" y2="687.5"/><line x1="923.3" y1="78" x2="923.3" y2="700"/></g>
<text x="169.6" y="58.3" font-family='"Liberation Serif", serif' font-size="43.3" textLength="401.4" lengthAdjust="spacingAndGlyphs">Sinking before crossing</text>
<text x="169.9" y="110.1" font-family='"Liberation Serif", serif' font-size="43.3" textLength="369.8" lengthAdjust="spacingAndGlyphs">the left and right lines</text>
<text x="655.0" y="63.0" font-family='"Liberation Serif", serif' font-size="43.3" textLength="261.0" lengthAdjust="spacingAndGlyphs">Interval divider</text>
<text x="930.6" y="61.6" font-family='"Liberation Serif", serif' font-size="43.3" textLength="180.7" lengthAdjust="spacingAndGlyphs">Settlement</text>
<text x="931.6" y="114.0" font-family='"Liberation Serif", serif' font-size="43.3" textLength="198.0" lengthAdjust="spacingAndGlyphs">value of the</text>
<text x="930.6" y="166.1" font-family='"Liberation Serif", serif' font-size="43.3" textLength="259.0" lengthAdjust="spacingAndGlyphs">right line down</text>
<text x="197.7" y="538.6" font-family='"Liberation Serif", serif' font-size="43.3" textLength="282.7" lengthAdjust="spacingAndGlyphs">Settlement value</text>
<text x="197.7" y="590.6" font-family='"Liberation Serif", serif' font-size="43.3" textLength="366.9" lengthAdjust="spacingAndGlyphs">of the right line down</text>
<line x1="700.20" y1="176.70" x2="744.35" y2="113.06" stroke="#0000ff" stroke-width="5.0"/><path d="M764.30 84.30L750.93 120.06L735.49 109.34Z" fill="#0000ff"/>
<line x1="921.60" y1="183.00" x2="869.74" y2="116.59" stroke="#0000ff" stroke-width="5.0"/><path d="M848.20 89.00L878.38 112.38L863.56 123.95Z" fill="#0000ff"/>
<line x1="573.80" y1="509.40" x2="678.03" y2="466.52" stroke="#ff0000" stroke-width="5.0"/><path d="M710.40 453.20L679.76 475.97L672.61 458.58Z" fill="#ff0000"/>
<line x1="396.60" y1="128.00" x2="397.02" y2="153.00" stroke="#00ffff" stroke-width="5.0"/><path d="M397.60 188.00L387.58 151.16L406.38 150.85Z" fill="#00ffff"/>
<line x1="1068.80" y1="165.00" x2="1070.90" y2="225.92" stroke="#ffff00" stroke-width="5.0"/><path d="M1072.10 260.90L1061.43 224.25L1080.22 223.60Z" fill="#ffff00"/>
<rect x="824" y="541" width="289" height="162" fill="#000"/>
<rect x="813.6" y="530.6" width="288.9" height="161.5" fill="#fff" stroke="#1a1a1a" stroke-width="1.0"/>
<line x1="819" y1="559.4" x2="914.3" y2="559.4" stroke="#00ff00" stroke-width="1.1"/>
<path d="M866.50 553.65L872.00 562.95L861.00 562.95Z" fill="#00ff00"/>
<line x1="819" y1="611.6" x2="914.3" y2="611.6" stroke="#000" stroke-width="0.8"/>
<path d="M862.80 607.80h8.2v8.2h-8.2Z" fill="#000"/>
<line x1="818.5" y1="664" x2="915" y2="664" stroke="#ff00ff" stroke-width="1.8"/>
<path d="M866.50 658.70L867.76 662.26L871.54 662.36L868.54 664.66L869.62 668.29L866.50 666.15L863.38 668.29L864.46 664.66L861.46 662.36L865.24 662.26Z" fill="#ff00ff"/>
<text x="924.3" y="573.5" font-family='"Liberation Serif", serif' font-size="42.4" textLength="171.4" lengthAdjust="spacingAndGlyphs">JCJ-01-01</text>
<text x="924.3" y="625.6" font-family='"Liberation Serif", serif' font-size="42.4" textLength="171.4" lengthAdjust="spacingAndGlyphs">JCJ-01-02</text>
<text x="924.3" y="678.0" font-family='"Liberation Serif", serif' font-size="42.4" textLength="171.4" lengthAdjust="spacingAndGlyphs">JCJ-01-03</text>
<text x="-0.4" y="872.9" font-family='"Liberation Serif", serif' font-size="45.0" textLength="665.3" lengthAdjust="spacingAndGlyphs">(d) Comprehensive time history curve</text>
<path d="M290.65 957.30L291.99 958.30L293.26 959.30L294.48 960.30L295.65 961.30L296.78 962.30L297.89 963.30L298.97 964.30L300.04 965.30L301.09 966.30L302.14 967.30L303.19 968.30L304.23 969.30L305.27 970.30L306.31 971.30L307.35 972.30L308.38 973.30L309.42 974.30L310.46 975.30L311.50 976.30L312.53 977.30L313.56 978.30L314.59 979.30L315.60 980.30L316.61 981.30L317.60 982.30L318.58 983.30L319.54 984.30L320.48 985.30L321.41 986.30L322.32 987.30L323.20 988.30L324.07 989.30L324.91 990.30L325.73 991.30L326.53 992.30L327.30 993.30L328.05 994.30L328.78 995.30L329.47 996.30L330.15 997.30L330.80 998.30L331.42 999.30L332.02 1000.30L332.59 1001.30L333.14 1002.30L333.66 1003.30L334.16 1004.30L334.64 1005.30L335.09 1006.30L335.52 1007.30L335.92 1008.30L336.30 1009.30L336.66 1010.30L337.00 1011.30L337.31 1012.30L337.60 1013.30L337.87 1014.30L338.11 1015.30L338.34 1016.30L338.54 1017.30L338.72 1018.30L338.88 1019.30L339.01 1020.30L339.12 1021.30L339.22 1022.30L339.29 1023.30L339.33 1024.30L339.36 1025.30L339.36 1026.30L339.35 1027.30L339.31 1028.30L339.24 1029.30L339.16 1030.30L339.06 1031.30L338.93 1032.30L338.78 1033.30L338.61 1034.30L338.42 1035.30L338.20 1036.30L337.97 1037.30L337.71 1038.30L337.44 1039.30L337.14 1040.30L336.83 1041.30L336.50 1042.30L336.14 1043.30L335.77 1044.30L335.38 1045.30L334.98 1046.30L334.55 1047.30L334.11 1048.30L333.66 1049.30L333.18 1050.30L332.70 1051.30L332.19 1052.30L331.68 1053.30L331.15 1054.30L330.60 1055.30L330.04 1056.30L329.47 1057.30L328.89 1058.30L328.29 1059.30L327.68 1060.30L327.06 1061.30L326.43 1062.30L325.79 1063.30L325.15 1064.30L324.49 1065.30L323.82 1066.30L323.14 1067.30L322.46 1068.30L321.77 1069.30L321.07 1070.30L320.37 1071.30L319.66 1072.30L318.95 1073.30L318.23 1074.30L317.51 1075.30L316.78 1076.30L316.05 1077.30L315.32 1078.30L314.59 1079.30L313.86 1080.30L313.13 1081.30L312.40 1082.30L311.67 1083.30L310.94 1084.30L310.21 1085.30L309.48 1086.30L308.76 1087.30L308.04 1088.30L307.32 1089.30L306.60 1090.30L305.89 1091.30L305.18 1092.30L304.48 1093.30L303.78 1094.30L303.08 1095.30L302.39 1096.30L301.71 1097.30L301.03 1098.30L300.35 1099.30L299.68 1100.30L299.02 1101.30L298.36 1102.30L297.70 1103.30L297.06 1104.30L296.41 1105.30L295.77 1106.30L295.14 1107.30L294.52 1108.30L293.90 1109.30L293.28 1110.30L292.68 1111.30L292.07 1112.30L291.48 1113.30L290.89 1114.30L290.31 1115.30L289.74 1116.30L289.18 1117.30L288.62 1118.30L288.07 1119.30L287.54 1120.30L287.01 1121.30L286.49 1122.30L285.98 1123.30L285.48 1124.30L285.00 1125.30L284.52 1126.30L284.06 1127.30L283.61 1128.30L283.17 1129.30L282.74 1130.30L282.33 1131.30L281.93 1132.30L281.53 1133.30L281.16 1134.30L280.79 1135.30L280.43 1136.30L280.08 1137.30L279.75 1138.30L279.42 1139.30L279.10 1140.30L278.79 1141.30L278.49 1142.30L278.19 1143.30L277.90 1144.30L277.61 1145.30L277.33 1146.30L277.05 1147.30L276.78 1148.30L276.50 1149.30L276.23 1150.30L275.96 1151.30L275.70 1152.30L275.43 1153.30L275.16 1154.30L274.90 1155.30L274.64 1156.30L274.37 1157.30L274.11 1158.30L273.85 1159.30L273.59 1160.30L273.34 1161.30L273.08 1162.30L272.83 1163.30L272.58 1164.30L272.34 1165.30L272.10 1166.30L271.86 1167.30L271.63 1168.30L271.41 1169.30L271.19 1170.30L270.97 1171.30L270.77 1172.30L270.57 1173.30L270.38 1174.30L270.20 1175.30L270.02 1176.30L269.85 1177.30L269.69 1178.30L269.54 1179.30L269.39 1180.30L269.26 1181.30L269.13 1182.30L269.01 1183.30L268.90 1184.30L268.80 1185.30L268.71 1186.30L268.63 1187.30L268.55 1188.30L268.48 1189.30L268.42 1190.30L268.37 1191.30L268.33 1192.30L268.30 1193.30L268.28 1194.30L268.26 1195.30L268.25 1196.30L268.25 1197.30L268.26 1198.30L268.28 1199.30L268.30 1200.30L268.33 1201.30L268.37 1202.30L268.42 1203.30L268.47 1204.30L268.53 1205.30L268.60 1206.30L268.68 1207.30L268.76 1208.30L268.86 1209.30L268.95 1210.30L269.06 1211.30L269.18 1212.30L269.30 1213.30L269.43 1214.30L269.57 1215.30L269.72 1216.30L269.88 1217.30L270.04 1218.30L270.22 1219.30L270.40 1220.30L270.59 1221.30L270.78 1222.30L270.99 1223.30L271.20 1224.30L271.42 1225.30L271.64 1226.30L271.87 1227.30L272.11 1228.30L272.36 1229.30L272.61 1230.30L272.86 1231.30L273.12 1232.30L273.39 1233.30L273.66 1234.30L273.94 1235.30L274.22 1236.30L274.51 1237.30L274.80 1238.30L275.09 1239.30L275.39 1240.30L275.70 1241.30L276.01 1242.30L276.32 1243.30L276.64 1244.30L276.95 1245.30L277.28 1246.30L277.60 1247.30L277.93 1248.30L278.26 1249.30L278.59 1250.30L278.93 1251.30L279.26 1252.30L279.60 1253.30L279.93 1254.30L280.27 1255.30L280.61 1256.30L280.94 1257.30L281.28 1258.30L281.61 1259.30L281.94 1260.30L282.26 1261.30L282.59 1262.30L282.91 1263.30L283.22 1264.30L283.54 1265.30L283.84 1266.30L284.14 1267.30L284.44 1268.30L284.73 1269.30L285.01 1270.30L285.29 1271.30L285.56 1272.30L285.83 1273.30L286.08 1274.30L286.33 1275.30L286.58 1276.30L286.81 1277.30L287.04 1278.30L287.25 1279.30L287.46 1280.30L287.66 1281.30L287.85 1282.30L288.04 1283.30L288.21 1284.30L288.37 1285.30L288.52 1286.30L288.67 1287.30L288.80 1288.30L288.92 1289.30L289.03 1290.30L289.13 1291.30L289.21 1292.30L289.29 1293.30L289.35 1294.30L289.40 1295.30L289.44 1296.30L289.47 1297.30L289.48 1298.30L289.48 1299.30L289.46 1300.30L289.44 1301.30L289.40 1302.30L289.34 1303.30L289.28 1304.30L289.20 1305.30L289.11 1306.30L289.00 1307.30L288.89 1308.30L288.76 1309.30L288.62 1310.30L288.46 1311.30L288.30 1312.30L288.12 1313.30L287.94 1314.30L287.74 1315.30L287.53 1316.30L287.31 1317.30L287.08 1318.30L286.84 1319.30L286.60 1320.30L286.34 1321.30L286.07 1322.30L285.80 1323.30L285.52 1324.30L285.24 1325.30L284.94 1326.30L284.64 1327.30L284.34 1328.30L284.03 1329.30L283.72 1330.30L283.40 1331.30L283.07 1332.30L282.74 1333.30L282.41 1334.30L282.08 1335.30L281.74 1336.30L281.39 1337.30L281.05 1338.30L280.70 1339.30L280.35 1340.30L279.99 1341.30L279.63 1342.30L279.27 1343.30L278.90 1344.30L278.54 1345.30L278.16 1346.30L277.79 1347.30L277.41 1348.30L277.03 1349.30L276.65 1350.30L276.27 1351.30L275.88 1352.30L275.49 1353.30L275.10 1354.30L274.71 1355.30L274.32 1356.30L273.92 1357.30L273.52 1358.30L273.12 1359.30L272.72 1360.30L272.32 1361.30L271.92 1362.30L271.52 1363.30L271.12 1364.30L270.71 1365.30L270.31 1366.30L269.91 1367.30L269.51 1368.30L269.11 1369.30L268.71 1370.30L268.31 1371.30L267.92 1372.30L267.52 1373.30L267.13 1374.30L266.74 1375.30L266.35 1376.30L265.97 1377.30L265.59 1378.30L265.22 1379.30L264.84 1380.30L264.48 1381.30L264.11 1382.30L263.76 1383.30L263.40 1384.30L263.05 1385.30L262.71 1386.30L262.37 1387.30L262.04 1388.30L261.71 1389.30L261.39 1390.30L261.08 1391.30L260.77 1392.30L260.47 1393.30L260.17 1394.30L259.88 1395.30L259.60 1396.30L259.32 1397.30L259.05 1398.30L258.79 1399.30L258.54 1400.30L258.29 1401.30L258.05 1402.30L257.82 1403.30L257.60 1404.30L257.38 1405.30L257.17 1406.30L256.97 1407.30L256.78 1408.30L256.60 1409.30L256.42 1410.30L256.26 1411.30L256.10 1412.30L255.95 1413.30L255.79 1414.30L255.64 1415.30L255.49 1416.30L255.35 1417.30L255.23 1418.30L255.11 1419.30L255.00 1420.30L254.90 1421.30L254.80 1422.30L254.71 1423.30L254.63 1424.30L254.56 1425.30L254.50 1426.30L254.45 1427.30L254.41 1428.30L254.40 1428.80L245.60 1428.80L245.59 1428.30L245.55 1427.30L245.50 1426.30L245.44 1425.30L245.37 1424.30L245.29 1423.30L245.20 1422.30L245.10 1421.30L245.00 1420.30L244.89 1419.30L244.77 1418.30L244.65 1417.30L244.51 1416.30L244.36 1415.30L244.21 1414.30L244.05 1413.30L243.90 1412.30L243.74 1411.30L243.58 1410.30L243.40 1409.30L243.22 1408.30L243.03 1407.30L242.83 1406.30L242.62 1405.30L242.40 1404.30L242.18 1403.30L241.95 1402.30L241.71 1401.30L241.46 1400.30L241.21 1399.30L240.95 1398.30L240.68 1397.30L240.40 1396.30L240.12 1395.30L239.83 1394.30L239.53 1393.30L239.23 1392.30L238.92 1391.30L238.61 1390.30L238.29 1389.30L237.96 1388.30L237.63 1387.30L237.29 1386.30L236.95 1385.30L236.60 1384.30L236.24 1383.30L235.89 1382.30L235.52 1381.30L235.16 1380.30L234.78 1379.30L234.41 1378.30L234.03 1377.30L233.65 1376.30L233.26 1375.30L232.87 1374.30L232.48 1373.30L232.08 1372.30L231.69 1371.30L231.29 1370.30L230.89 1369.30L230.49 1368.30L230.09 1367.30L229.69 1366.30L229.29 1365.30L228.88 1364.30L228.48 1363.30L228.08 1362.30L227.68 1361.30L227.28 1360.30L226.88 1359.30L226.48 1358.30L226.08 1357.30L225.68 1356.30L225.29 1355.30L224.90 1354.30L224.51 1353.30L224.12 1352.30L223.73 1351.30L223.35 1350.30L222.97 1349.30L222.59 1348.30L222.21 1347.30L221.84 1346.30L221.46 1345.30L221.10 1344.30L220.73 1343.30L220.37 1342.30L220.01 1341.30L219.65 1340.30L219.30 1339.30L218.95 1338.30L218.61 1337.30L218.26 1336.30L217.92 1335.30L217.59 1334.30L217.26 1333.30L216.93 1332.30L216.60 1331.30L216.28 1330.30L215.97 1329.30L215.66 1328.30L215.36 1327.30L215.06 1326.30L214.76 1325.30L214.48 1324.30L214.20 1323.30L213.93 1322.30L213.66 1321.30L213.40 1320.30L213.16 1319.30L212.92 1318.30L212.69 1317.30L212.47 1316.30L212.26 1315.30L212.06 1314.30L211.88 1313.30L211.70 1312.30L211.54 1311.30L211.38 1310.30L211.24 1309.30L211.11 1308.30L211.00 1307.30L210.89 1306.30L210.80 1305.30L210.72 1304.30L210.66 1303.30L210.60 1302.30L210.56 1301.30L210.54 1300.30L210.52 1299.30L210.52 1298.30L210.53 1297.30L210.56 1296.30L210.60 1295.30L210.65 1294.30L210.71 1293.30L210.79 1292.30L210.87 1291.30L210.97 1290.30L211.08 1289.30L211.20 1288.30L211.33 1287.30L211.48 1286.30L211.63 1285.30L211.79 1284.30L211.96 1283.30L212.15 1282.30L212.34 1281.30L212.54 1280.30L212.75 1279.30L212.96 1278.30L213.19 1277.30L213.42 1276.30L213.67 1275.30L213.92 1274.30L214.17 1273.30L214.44 1272.30L214.71 1271.30L214.99 1270.30L215.27 1269.30L215.56 1268.30L215.86 1267.30L216.16 1266.30L216.46 1265.30L216.78 1264.30L217.09 1263.30L217.41 1262.30L217.74 1261.30L218.06 1260.30L218.39 1259.30L218.72 1258.30L219.06 1257.30L219.39 1256.30L219.73 1255.30L220.07 1254.30L220.40 1253.30L220.74 1252.30L221.07 1251.30L221.41 1250.30L221.74 1249.30L222.07 1248.30L222.40 1247.30L222.72 1246.30L223.05 1245.30L223.36 1244.30L223.68 1243.30L223.99 1242.30L224.30 1241.30L224.61 1240.30L224.91 1239.30L225.20 1238.30L225.49 1237.30L225.78 1236.30L226.06 1235.30L226.34 1234.30L226.61 1233.30L226.88 1232.30L227.14 1231.30L227.39 1230.30L227.64 1229.30L227.89 1228.30L228.13 1227.30L228.36 1226.30L228.58 1225.30L228.80 1224.30L229.01 1223.30L229.22 1222.30L229.41 1221.30L229.60 1220.30L229.78 1219.30L229.96 1218.30L230.12 1217.30L230.28 1216.30L230.43 1215.30L230.57 1214.30L230.70 1213.30L230.82 1212.30L230.94 1211.30L231.05 1210.30L231.14 1209.30L231.24 1208.30L231.32 1207.30L231.40 1206.30L231.47 1205.30L231.53 1204.30L231.58 1203.30L231.63 1202.30L231.67 1201.30L231.70 1200.30L231.72 1199.30L231.74 1198.30L231.75 1197.30L231.75 1196.30L231.74 1195.30L231.72 1194.30L231.70 1193.30L231.67 1192.30L231.63 1191.30L231.58 1190.30L231.52 1189.30L231.45 1188.30L231.37 1187.30L231.29 1186.30L231.20 1185.30L231.10 1184.30L230.99 1183.30L230.87 1182.30L230.74 1181.30L230.61 1180.30L230.46 1179.30L230.31 1178.30L230.15 1177.30L229.98 1176.30L229.80 1175.30L229.62 1174.30L229.43 1173.30L229.23 1172.30L229.03 1171.30L228.81 1170.30L228.59 1169.30L228.37 1168.30L228.14 1167.30L227.90 1166.30L227.66 1165.30L227.42 1164.30L227.17 1163.30L226.92 1162.30L226.66 1161.30L226.41 1160.30L226.15 1159.30L225.89 1158.30L225.63 1157.30L225.36 1156.30L225.10 1155.30L224.84 1154.30L224.57 1153.30L224.30 1152.30L224.04 1151.30L223.77 1150.30L223.50 1149.30L223.22 1148.30L222.95 1147.30L222.67 1146.30L222.39 1145.30L222.10 1144.30L221.81 1143.30L221.51 1142.30L221.21 1141.30L220.90 1140.30L220.58 1139.30L220.25 1138.30L219.92 1137.30L219.57 1136.30L219.21 1135.30L218.84 1134.30L218.47 1133.30L218.07 1132.30L217.67 1131.30L217.26 1130.30L216.83 1129.30L216.39 1128.30L215.94 1127.30L215.48 1126.30L215.00 1125.30L214.52 1124.30L214.02 1123.30L213.51 1122.30L212.99 1121.30L212.46 1120.30L211.93 1119.30L211.38 1118.30L210.82 1117.30L210.26 1116.30L209.69 1115.30L209.11 1114.30L208.52 1113.30L207.93 1112.30L207.32 1111.30L206.72 1110.30L206.10 1109.30L205.48 1108.30L204.86 1107.30L204.23 1106.30L203.59 1105.30L202.94 1104.30L202.30 1103.30L201.64 1102.30L200.98 1101.30L200.32 1100.30L199.65 1099.30L198.97 1098.30L198.29 1097.30L197.61 1096.30L196.92 1095.30L196.22 1094.30L195.52 1093.30L194.82 1092.30L194.11 1091.30L193.40 1090.30L192.68 1089.30L191.96 1088.30L191.24 1087.30L190.52 1086.30L189.79 1085.30L189.06 1084.30L188.33 1083.30L187.60 1082.30L186.87 1081.30L186.14 1080.30L185.41 1079.30L184.68 1078.30L183.95 1077.30L183.22 1076.30L182.49 1075.30L181.77 1074.30L181.05 1073.30L180.34 1072.30L179.63 1071.30L178.93 1070.30L178.23 1069.30L177.54 1068.30L176.86 1067.30L176.18 1066.30L175.51 1065.30L174.85 1064.30L174.21 1063.30L173.57 1062.30L172.94 1061.30L172.32 1060.30L171.71 1059.30L171.11 1058.30L170.53 1057.30L169.96 1056.30L169.40 1055.30L168.85 1054.30L168.32 1053.30L167.81 1052.30L167.30 1051.30L166.82 1050.30L166.34 1049.30L165.89 1048.30L165.45 1047.30L165.02 1046.30L164.62 1045.30L164.23 1044.30L163.86 1043.30L163.50 1042.30L163.17 1041.30L162.86 1040.30L162.56 1039.30L162.29 1038.30L162.03 1037.30L161.80 1036.30L161.58 1035.30L161.39 1034.30L161.22 1033.30L161.07 1032.30L160.94 1031.30L160.84 1030.30L160.76 1029.30L160.69 1028.30L160.65 1027.30L160.64 1026.30L160.64 1025.30L160.67 1024.30L160.71 1023.30L160.78 1022.30L160.88 1021.30L160.99 1020.30L161.12 1019.30L161.28 1018.30L161.46 1017.30L161.66 1016.30L161.89 1015.30L162.13 1014.30L162.40 1013.30L162.69 1012.30L163.00 1011.30L163.34 1010.30L163.70 1009.30L164.08 1008.30L164.48 1007.30L164.91 1006.30L165.36 1005.30L165.84 1004.30L166.34 1003.30L166.86 1002.30L167.41 1001.30L167.98 1000.30L168.58 999.30L169.20 998.30L169.85 997.30L170.53 996.30L171.22 995.30L171.95 994.30L172.70 993.30L173.47 992.30L174.27 991.30L175.09 990.30L175.93 989.30L176.80 988.30L177.68 987.30L178.59 986.30L179.52 985.30L180.46 984.30L181.42 983.30L182.40 982.30L183.39 981.30L184.40 980.30L185.41 979.30L186.44 978.30L187.47 977.30L188.50 976.30L189.54 975.30L190.58 974.30L191.62 973.30L192.65 972.30L193.69 971.30L194.73 970.30L195.77 969.30L196.81 968.30L197.86 967.30L198.91 966.30L199.96 965.30L201.03 964.30L202.11 963.30L203.22 962.30L204.35 961.30L205.52 960.30L206.74 959.30L208.01 958.30L209.35 957.30Z" fill="#689a9a" stroke="#393939" stroke-width="1.8" stroke-linejoin="round"/>
<path d="M502.75 957.30L503.97 958.30L505.14 959.30L506.26 960.30L507.34 961.30L508.39 962.30L509.42 963.30L510.43 964.30L511.44 965.30L512.43 966.30L513.43 967.30L514.42 968.30L515.42 969.30L516.43 970.30L517.44 971.30L518.47 972.30L519.48 973.30L520.50 974.30L521.53 975.30L522.57 976.30L523.62 977.30L524.68 978.30L525.73 979.30L526.80 980.30L527.86 981.30L528.92 982.30L529.99 983.30L531.05 984.30L532.12 985.30L533.18 986.30L534.24 987.30L535.29 988.30L536.35 989.30L537.39 990.30L538.43 991.30L539.46 992.30L540.49 993.30L541.51 994.30L542.51 995.30L543.51 996.30L544.50 997.30L545.47 998.30L546.43 999.30L547.38 1000.30L548.32 1001.30L549.23 1002.30L550.13 1003.30L551.01 1004.30L551.88 1005.30L552.72 1006.30L553.54 1007.30L554.34 1008.30L555.12 1009.30L555.87 1010.30L556.59 1011.30L557.29 1012.30L557.97 1013.30L558.61 1014.30L559.23 1015.30L559.81 1016.30L560.37 1017.30L560.90 1018.30L561.39 1019.30L561.86 1020.30L562.30 1021.30L562.70 1022.30L563.07 1023.30L563.42 1024.30L563.73 1025.30L564.01 1026.30L564.26 1027.30L564.49 1028.30L564.68 1029.30L564.84 1030.30L564.98 1031.30L565.08 1032.30L565.16 1033.30L565.21 1034.30L565.22 1035.30L565.21 1036.30L565.18 1037.30L565.11 1038.30L565.02 1039.30L564.90 1040.30L564.75 1041.30L564.58 1042.30L564.38 1043.30L564.16 1044.30L563.91 1045.30L563.63 1046.30L563.33 1047.30L563.01 1048.30L562.67 1049.30L562.30 1050.30L561.92 1051.30L561.51 1052.30L561.08 1053.30L560.64 1054.30L560.17 1055.30L559.69 1056.30L559.19 1057.30L558.67 1058.30L558.13 1059.30L557.58 1060.30L557.01 1061.30L556.43 1062.30L555.84 1063.30L555.22 1064.30L554.60 1065.30L553.96 1066.30L553.31 1067.30L552.64 1068.30L551.96 1069.30L551.27 1070.30L550.57 1071.30L549.86 1072.30L549.14 1073.30L548.41 1074.30L547.67 1075.30L546.93 1076.30L546.18 1077.30L545.42 1078.30L544.65 1079.30L543.88 1080.30L543.10 1081.30L542.33 1082.30L541.54 1083.30L540.76 1084.30L539.97 1085.30L539.18 1086.30L538.39 1087.30L537.59 1088.30L536.80 1089.30L536.01 1090.30L535.21 1091.30L534.42 1092.30L533.62 1093.30L532.83 1094.30L532.04 1095.30L531.25 1096.30L530.46 1097.30L529.68 1098.30L528.89 1099.30L528.11 1100.30L527.34 1101.30L526.57 1102.30L525.80 1103.30L525.04 1104.30L524.28 1105.30L523.53 1106.30L522.79 1107.30L522.06 1108.30L521.33 1109.30L520.61 1110.30L519.90 1111.30L519.20 1112.30L518.52 1113.30L517.84 1114.30L517.17 1115.30L516.51 1116.30L515.87 1117.30L515.24 1118.30L514.62 1119.30L514.02 1120.30L513.43 1121.30L512.85 1122.30L512.29 1123.30L511.74 1124.30L511.21 1125.30L510.69 1126.30L510.19 1127.30L509.70 1128.30L509.22 1129.30L508.76 1130.30L508.31 1131.30L507.87 1132.30L507.45 1133.30L507.03 1134.30L506.63 1135.30L506.24 1136.30L505.86 1137.30L505.49 1138.30L505.13 1139.30L504.78 1140.30L504.43 1141.30L504.10 1142.30L503.76 1143.30L503.44 1144.30L503.12 1145.30L502.80 1146.30L502.49 1147.30L502.19 1148.30L501.88 1149.30L501.59 1150.30L501.29 1151.30L501.00 1152.30L500.71 1153.30L500.43 1154.30L500.15 1155.30L499.87 1156.30L499.60 1157.30L499.33 1158.30L499.06 1159.30L498.80 1160.30L498.55 1161.30L498.29 1162.30L498.05 1163.30L497.81 1164.30L497.57 1165.30L497.34 1166.30L497.12 1167.30L496.90 1168.30L496.69 1169.30L496.49 1170.30L496.29 1171.30L496.11 1172.30L495.93 1173.30L495.76 1174.30L495.60 1175.30L495.44 1176.30L495.30 1177.30L495.16 1178.30L495.03 1179.30L494.91 1180.30L494.79 1181.30L494.69 1182.30L494.59 1183.30L494.50 1184.30L494.42 1185.30L494.35 1186.30L494.28 1187.30L494.23 1188.30L494.18 1189.30L494.14 1190.30L494.10 1191.30L494.08 1192.30L494.06 1193.30L494.05 1194.30L494.05 1195.30L494.05 1196.30L494.06 1197.30L494.08 1198.30L494.11 1199.30L494.15 1200.30L494.19 1201.30L494.24 1202.30L494.29 1203.30L494.35 1204.30L494.42 1205.30L494.49 1206.30L494.57 1207.30L494.66 1208.30L494.76 1209.30L494.86 1210.30L494.96 1211.30L495.08 1212.30L495.20 1213.30L495.32 1214.30L495.46 1215.30L495.60 1216.30L495.75 1217.30L495.90 1218.30L496.06 1219.30L496.23 1220.30L496.41 1221.30L496.60 1222.30L496.79 1223.30L496.99 1224.30L497.20 1225.30L497.42 1226.30L497.64 1227.30L497.88 1228.30L498.12 1229.30L498.37 1230.30L498.62 1231.30L498.88 1232.30L499.15 1233.30L499.43 1234.30L499.71 1235.30L500.00 1236.30L500.29 1237.30L500.59 1238.30L500.89 1239.30L501.19 1240.30L501.50 1241.30L501.81 1242.30L502.12 1243.30L502.43 1244.30L502.74 1245.30L503.06 1246.30L503.37 1247.30L503.68 1248.30L503.98 1249.30L504.29 1250.30L504.59 1251.30L504.89 1252.30L505.19 1253.30L505.48 1254.30L505.77 1255.30L506.06 1256.30L506.34 1257.30L506.62 1258.30L506.89 1259.30L507.15 1260.30L507.41 1261.30L507.67 1262.30L507.92 1263.30L508.17 1264.30L508.40 1265.30L508.64 1266.30L508.86 1267.30L509.09 1268.30L509.30 1269.30L509.51 1270.30L509.71 1271.30L509.90 1272.30L510.09 1273.30L510.27 1274.30L510.45 1275.30L510.61 1276.30L510.77 1277.30L510.92 1278.30L511.07 1279.30L511.20 1280.30L511.33 1281.30L511.46 1282.30L511.57 1283.30L511.68 1284.30L511.78 1285.30L511.87 1286.30L511.96 1287.30L512.04 1288.30L512.11 1289.30L512.18 1290.30L512.24 1291.30L512.29 1292.30L512.34 1293.30L512.38 1294.30L512.41 1295.30L512.44 1296.30L512.45 1297.30L512.47 1298.30L512.47 1299.30L512.47 1300.30L512.46 1301.30L512.44 1302.30L512.41 1303.30L512.38 1304.30L512.34 1305.30L512.28 1306.30L512.22 1307.30L512.15 1308.30L512.08 1309.30L511.99 1310.30L511.89 1311.30L511.78 1312.30L511.67 1313.30L511.54 1314.30L511.40 1315.30L511.26 1316.30L511.10 1317.30L510.93 1318.30L510.76 1319.30L510.57 1320.30L510.37 1321.30L510.16 1322.30L509.94 1323.30L509.71 1324.30L509.47 1325.30L509.22 1326.30L508.96 1327.30L508.68 1328.30L508.40 1329.30L508.11 1330.30L507.81 1331.30L507.51 1332.30L507.19 1333.30L506.87 1334.30L506.54 1335.30L506.20 1336.30L505.85 1337.30L505.50 1338.30L505.15 1339.30L504.79 1340.30L504.42 1341.30L504.05 1342.30L503.67 1343.30L503.29 1344.30L502.91 1345.30L502.52 1346.30L502.13 1347.30L501.74 1348.30L501.34 1349.30L500.94 1350.30L500.54 1351.30L500.14 1352.30L499.74 1353.30L499.34 1354.30L498.93 1355.30L498.53 1356.30L498.13 1357.30L497.72 1358.30L497.32 1359.30L496.92 1360.30L496.52 1361.30L496.12 1362.30L495.72 1363.30L495.33 1364.30L494.94 1365.30L494.55 1366.30L494.16 1367.30L493.78 1368.30L493.40 1369.30L493.02 1370.30L492.65 1371.30L492.28 1372.30L491.92 1373.30L491.56 1374.30L491.21 1375.30L490.86 1376.30L490.52 1377.30L490.18 1378.30L489.85 1379.30L489.52 1380.30L489.20 1381.30L488.88 1382.30L488.57 1383.30L488.26 1384.30L487.96 1385.30L487.67 1386.30L487.38 1387.30L487.10 1388.30L486.82 1389.30L486.55 1390.30L486.28 1391.30L486.02 1392.30L485.77 1393.30L485.52 1394.30L485.28 1395.30L485.04 1396.30L484.81 1397.30L484.59 1398.30L484.38 1399.30L484.17 1400.30L483.97 1401.30L483.77 1402.30L483.59 1403.30L483.41 1404.30L483.24 1405.30L483.07 1406.30L482.91 1407.30L482.77 1408.30L482.62 1409.30L482.49 1410.30L482.36 1411.30L482.24 1412.30L482.13 1413.30L482.02 1414.30L481.90 1415.30L481.80 1416.30L481.70 1417.30L481.60 1418.30L481.52 1419.30L481.43 1420.30L481.36 1421.30L481.28 1422.30L481.22 1423.30L481.16 1424.30L481.11 1425.30L481.06 1426.30L481.03 1427.30L481.01 1428.30L481.00 1428.80L471.00 1428.80L470.99 1428.30L470.97 1427.30L470.94 1426.30L470.89 1425.30L470.84 1424.30L470.78 1423.30L470.72 1422.30L470.64 1421.30L470.57 1420.30L470.48 1419.30L470.40 1418.30L470.30 1417.30L470.20 1416.30L470.10 1415.30L469.98 1414.30L469.87 1413.30L469.76 1412.30L469.64 1411.30L469.51 1410.30L469.38 1409.30L469.23 1408.30L469.09 1407.30L468.93 1406.30L468.76 1405.30L468.59 1404.30L468.41 1403.30L468.23 1402.30L468.03 1401.30L467.83 1400.30L467.62 1399.30L467.41 1398.30L467.19 1397.30L466.96 1396.30L466.72 1395.30L466.48 1394.30L466.23 1393.30L465.98 1392.30L465.72 1391.30L465.45 1390.30L465.18 1389.30L464.90 1388.30L464.62 1387.30L464.33 1386.30L464.04 1385.30L463.74 1384.30L463.43 1383.30L463.12 1382.30L462.80 1381.30L462.48 1380.30L462.15 1379.30L461.82 1378.30L461.48 1377.30L461.14 1376.30L460.79 1375.30L460.44 1374.30L460.08 1373.30L459.72 1372.30L459.35 1371.30L458.98 1370.30L458.60 1369.30L458.22 1368.30L457.84 1367.30L457.45 1366.30L457.06 1365.30L456.67 1364.30L456.28 1363.30L455.88 1362.30L455.48 1361.30L455.08 1360.30L454.68 1359.30L454.28 1358.30L453.87 1357.30L453.47 1356.30L453.07 1355.30L452.66 1354.30L452.26 1353.30L451.86 1352.30L451.46 1351.30L451.06 1350.30L450.66 1349.30L450.26 1348.30L449.87 1347.30L449.48 1346.30L449.09 1345.30L448.71 1344.30L448.33 1343.30L447.95 1342.30L447.58 1341.30L447.21 1340.30L446.85 1339.30L446.50 1338.30L446.15 1337.30L445.80 1336.30L445.46 1335.30L445.13 1334.30L444.81 1333.30L444.49 1332.30L444.19 1331.30L443.89 1330.30L443.60 1329.30L443.32 1328.30L443.04 1327.30L442.78 1326.30L442.53 1325.30L442.29 1324.30L442.06 1323.30L441.84 1322.30L441.63 1321.30L441.43 1320.30L441.24 1319.30L441.07 1318.30L440.90 1317.30L440.74 1316.30L440.60 1315.30L440.46 1314.30L440.33 1313.30L440.22 1312.30L440.11 1311.30L440.01 1310.30L439.92 1309.30L439.85 1308.30L439.78 1307.30L439.72 1306.30L439.66 1305.30L439.62 1304.30L439.59 1303.30L439.56 1302.30L439.54 1301.30L439.53 1300.30L439.53 1299.30L439.53 1298.30L439.55 1297.30L439.56 1296.30L439.59 1295.30L439.62 1294.30L439.66 1293.30L439.71 1292.30L439.76 1291.30L439.82 1290.30L439.89 1289.30L439.96 1288.30L440.04 1287.30L440.13 1286.30L440.22 1285.30L440.32 1284.30L440.43 1283.30L440.54 1282.30L440.67 1281.30L440.80 1280.30L440.93 1279.30L441.08 1278.30L441.23 1277.30L441.39 1276.30L441.55 1275.30L441.73 1274.30L441.91 1273.30L442.10 1272.30L442.29 1271.30L442.49 1270.30L442.70 1269.30L442.91 1268.30L443.14 1267.30L443.36 1266.30L443.60 1265.30L443.83 1264.30L444.08 1263.30L444.33 1262.30L444.59 1261.30L444.85 1260.30L445.11 1259.30L445.38 1258.30L445.66 1257.30L445.94 1256.30L446.23 1255.30L446.52 1254.30L446.81 1253.30L447.11 1252.30L447.41 1251.30L447.71 1250.30L448.02 1249.30L448.32 1248.30L448.63 1247.30L448.94 1246.30L449.26 1245.30L449.57 1244.30L449.88 1243.30L450.19 1242.30L450.50 1241.30L450.81 1240.30L451.11 1239.30L451.41 1238.30L451.71 1237.30L452.00 1236.30L452.29 1235.30L452.57 1234.30L452.85 1233.30L453.12 1232.30L453.38 1231.30L453.63 1230.30L453.88 1229.30L454.12 1228.30L454.36 1227.30L454.58 1226.30L454.80 1225.30L455.01 1224.30L455.21 1223.30L455.40 1222.30L455.59 1221.30L455.77 1220.30L455.94 1219.30L456.10 1218.30L456.25 1217.30L456.40 1216.30L456.54 1215.30L456.68 1214.30L456.80 1213.30L456.92 1212.30L457.04 1211.30L457.14 1210.30L457.24 1209.30L457.34 1208.30L457.43 1207.30L457.51 1206.30L457.58 1205.30L457.65 1204.30L457.71 1203.30L457.76 1202.30L457.81 1201.30L457.85 1200.30L457.89 1199.30L457.92 1198.30L457.94 1197.30L457.95 1196.30L457.95 1195.30L457.95 1194.30L457.94 1193.30L457.92 1192.30L457.90 1191.30L457.86 1190.30L457.82 1189.30L457.77 1188.30L457.72 1187.30L457.65 1186.30L457.58 1185.30L457.50 1184.30L457.41 1183.30L457.31 1182.30L457.21 1181.30L457.09 1180.30L456.97 1179.30L456.84 1178.30L456.70 1177.30L456.56 1176.30L456.40 1175.30L456.24 1174.30L456.07 1173.30L455.89 1172.30L455.71 1171.30L455.51 1170.30L455.31 1169.30L455.10 1168.30L454.88 1167.30L454.66 1166.30L454.43 1165.30L454.19 1164.30L453.95 1163.30L453.71 1162.30L453.45 1161.30L453.20 1160.30L452.94 1159.30L452.67 1158.30L452.40 1157.30L452.13 1156.30L451.85 1155.30L451.57 1154.30L451.29 1153.30L451.00 1152.30L450.71 1151.30L450.41 1150.30L450.12 1149.30L449.81 1148.30L449.51 1147.30L449.20 1146.30L448.88 1145.30L448.56 1144.30L448.24 1143.30L447.90 1142.30L447.57 1141.30L447.22 1140.30L446.87 1139.30L446.51 1138.30L446.14 1137.30L445.76 1136.30L445.37 1135.30L444.97 1134.30L444.55 1133.30L444.13 1132.30L443.69 1131.30L443.24 1130.30L442.78 1129.30L442.30 1128.30L441.81 1127.30L441.31 1126.30L440.79 1125.30L440.26 1124.30L439.71 1123.30L439.15 1122.30L438.57 1121.30L437.98 1120.30L437.38 1119.30L436.76 1118.30L436.13 1117.30L435.49 1116.30L434.83 1115.30L434.16 1114.30L433.48 1113.30L432.80 1112.30L432.10 1111.30L431.39 1110.30L430.67 1109.30L429.94 1108.30L429.21 1107.30L428.47 1106.30L427.72 1105.30L426.96 1104.30L426.20 1103.30L425.43 1102.30L424.66 1101.30L423.89 1100.30L423.11 1099.30L422.32 1098.30L421.54 1097.30L420.75 1096.30L419.96 1095.30L419.17 1094.30L418.38 1093.30L417.58 1092.30L416.79 1091.30L415.99 1090.30L415.20 1089.30L414.41 1088.30L413.61 1087.30L412.82 1086.30L412.03 1085.30L411.24 1084.30L410.46 1083.30L409.67 1082.30L408.90 1081.30L408.12 1080.30L407.35 1079.30L406.58 1078.30L405.82 1077.30L405.07 1076.30L404.33 1075.30L403.59 1074.30L402.86 1073.30L402.14 1072.30L401.43 1071.30L400.73 1070.30L400.04 1069.30L399.36 1068.30L398.69 1067.30L398.04 1066.30L397.40 1065.30L396.78 1064.30L396.16 1063.30L395.57 1062.30L394.99 1061.30L394.42 1060.30L393.87 1059.30L393.33 1058.30L392.81 1057.30L392.31 1056.30L391.83 1055.30L391.36 1054.30L390.92 1053.30L390.49 1052.30L390.08 1051.30L389.70 1050.30L389.33 1049.30L388.99 1048.30L388.67 1047.30L388.37 1046.30L388.09 1045.30L387.84 1044.30L387.62 1043.30L387.42 1042.30L387.25 1041.30L387.10 1040.30L386.98 1039.30L386.89 1038.30L386.82 1037.30L386.79 1036.30L386.78 1035.30L386.79 1034.30L386.84 1033.30L386.92 1032.30L387.02 1031.30L387.16 1030.30L387.32 1029.30L387.51 1028.30L387.74 1027.30L387.99 1026.30L388.27 1025.30L388.58 1024.30L388.93 1023.30L389.30 1022.30L389.70 1021.30L390.14 1020.30L390.61 1019.30L391.10 1018.30L391.63 1017.30L392.19 1016.30L392.77 1015.30L393.39 1014.30L394.03 1013.30L394.71 1012.30L395.41 1011.30L396.13 1010.30L396.88 1009.30L397.66 1008.30L398.46 1007.30L399.28 1006.30L400.12 1005.30L400.99 1004.30L401.87 1003.30L402.77 1002.30L403.68 1001.30L404.62 1000.30L405.57 999.30L406.53 998.30L407.50 997.30L408.49 996.30L409.49 995.30L410.49 994.30L411.51 993.30L412.54 992.30L413.57 991.30L414.61 990.30L415.65 989.30L416.71 988.30L417.76 987.30L418.82 986.30L419.88 985.30L420.95 984.30L422.01 983.30L423.08 982.30L424.14 981.30L425.20 980.30L426.27 979.30L427.32 978.30L428.38 977.30L429.43 976.30L430.47 975.30L431.50 974.30L432.52 973.30L433.53 972.30L434.56 971.30L435.57 970.30L436.58 969.30L437.58 968.30L438.57 967.30L439.57 966.30L440.56 965.30L441.57 964.30L442.58 963.30L443.61 962.30L444.66 961.30L445.74 960.30L446.86 959.30L448.03 958.30L449.25 957.30Z" fill="#689a9a" stroke="#393939" stroke-width="1.8" stroke-linejoin="round"/>
<path d="M735.40 957.30L736.69 958.30L737.91 959.30L739.09 960.30L740.22 961.30L741.33 962.30L742.40 963.30L743.46 964.30L744.51 965.30L745.55 966.30L746.58 967.30L747.61 968.30L748.65 969.30L749.69 970.30L750.73 971.30L751.78 972.30L752.82 973.30L753.87 974.30L754.92 975.30L755.98 976.30L757.04 977.30L758.10 978.30L759.16 979.30L760.21 980.30L761.26 981.30L762.30 982.30L763.34 983.30L764.36 984.30L765.38 985.30L766.38 986.30L767.37 987.30L768.34 988.30L769.30 989.30L770.25 990.30L771.18 991.30L772.09 992.30L772.99 993.30L773.86 994.30L774.72 995.30L775.56 996.30L776.39 997.30L777.19 998.30L777.98 999.30L778.74 1000.30L779.49 1001.30L780.22 1002.30L780.92 1003.30L781.61 1004.30L782.27 1005.30L782.92 1006.30L783.54 1007.30L784.13 1008.30L784.71 1009.30L785.25 1010.30L785.78 1011.30L786.28 1012.30L786.75 1013.30L787.19 1014.30L787.61 1015.30L788.00 1016.30L788.36 1017.30L788.70 1018.30L789.00 1019.30L789.28 1020.30L789.53 1021.30L789.76 1022.30L789.96 1023.30L790.13 1024.30L790.28 1025.30L790.41 1026.30L790.51 1027.30L790.59 1028.30L790.64 1029.30L790.68 1030.30L790.69 1031.30L790.68 1032.30L790.65 1033.30L790.60 1034.30L790.52 1035.30L790.43 1036.30L790.31 1037.30L790.17 1038.30L790.01 1039.30L789.82 1040.30L789.61 1041.30L789.38 1042.30L789.12 1043.30L788.84 1044.30L788.53 1045.30L788.20 1046.30L787.85 1047.30L787.46 1048.30L787.06 1049.30L786.63 1050.30L786.18 1051.30L785.70 1052.30L785.20 1053.30L784.69 1054.30L784.15 1055.30L783.59 1056.30L783.02 1057.30L782.43 1058.30L781.83 1059.30L781.21 1060.30L780.57 1061.30L779.93 1062.30L779.27 1063.30L778.60 1064.30L777.93 1065.30L777.24 1066.30L776.54 1067.30L775.84 1068.30L775.13 1069.30L774.41 1070.30L773.68 1071.30L772.95 1072.30L772.22 1073.30L771.47 1074.30L770.73 1075.30L769.98 1076.30L769.22 1077.30L768.46 1078.30L767.70 1079.30L766.94 1080.30L766.17 1081.30L765.41 1082.30L764.64 1083.30L763.87 1084.30L763.11 1085.30L762.34 1086.30L761.58 1087.30L760.82 1088.30L760.06 1089.30L759.30 1090.30L758.55 1091.30L757.80 1092.30L757.06 1093.30L756.33 1094.30L755.59 1095.30L754.87 1096.30L754.15 1097.30L753.44 1098.30L752.74 1099.30L752.04 1100.30L751.36 1101.30L750.68 1102.30L750.01 1103.30L749.35 1104.30L748.70 1105.30L748.06 1106.30L747.43 1107.30L746.81 1108.30L746.20 1109.30L745.60 1110.30L745.01 1111.30L744.43 1112.30L743.86 1113.30L743.30 1114.30L742.76 1115.30L742.22 1116.30L741.70 1117.30L741.19 1118.30L740.68 1119.30L740.19 1120.30L739.71 1121.30L739.25 1122.30L738.79 1123.30L738.35 1124.30L737.92 1125.30L737.50 1126.30L737.09 1127.30L736.70 1128.30L736.32 1129.30L735.95 1130.30L735.59 1131.30L735.24 1132.30L734.91 1133.30L734.59 1134.30L734.27 1135.30L733.97 1136.30L733.68 1137.30L733.39 1138.30L733.11 1139.30L732.84 1140.30L732.57 1141.30L732.30 1142.30L732.04 1143.30L731.78 1144.30L731.52 1145.30L731.26 1146.30L731.00 1147.30L730.73 1148.30L730.47 1149.30L730.20 1150.30L729.93 1151.30L729.66 1152.30L729.39 1153.30L729.11 1154.30L728.84 1155.30L728.57 1156.30L728.30 1157.30L728.03 1158.30L727.76 1159.30L727.50 1160.30L727.25 1161.30L727.00 1162.30L726.75 1163.30L726.52 1164.30L726.29 1165.30L726.07 1166.30L725.86 1167.30L725.66 1168.30L725.47 1169.30L725.28 1170.30L725.11 1171.30L724.94 1172.30L724.78 1173.30L724.63 1174.30L724.49 1175.30L724.35 1176.30L724.22 1177.30L724.10 1178.30L723.99 1179.30L723.88 1180.30L723.78 1181.30L723.69 1182.30L723.60 1183.30L723.52 1184.30L723.45 1185.30L723.38 1186.30L723.32 1187.30L723.27 1188.30L723.22 1189.30L723.18 1190.30L723.14 1191.30L723.12 1192.30L723.09 1193.30L723.08 1194.30L723.07 1195.30L723.06 1196.30L723.07 1197.30L723.07 1198.30L723.09 1199.30L723.11 1200.30L723.13 1201.30L723.17 1202.30L723.20 1203.30L723.25 1204.30L723.29 1205.30L723.35 1206.30L723.41 1207.30L723.48 1208.30L723.55 1209.30L723.63 1210.30L723.71 1211.30L723.80 1212.30L723.90 1213.30L724.01 1214.30L724.12 1215.30L724.24 1216.30L724.37 1217.30L724.50 1218.30L724.64 1219.30L724.79 1220.30L724.95 1221.30L725.11 1222.30L725.28 1223.30L725.46 1224.30L725.64 1225.30L725.83 1226.30L726.03 1227.30L726.24 1228.30L726.45 1229.30L726.66 1230.30L726.89 1231.30L727.11 1232.30L727.35 1233.30L727.59 1234.30L727.83 1235.30L728.08 1236.30L728.33 1237.30L728.58 1238.30L728.84 1239.30L729.10 1240.30L729.37 1241.30L729.63 1242.30L729.90 1243.30L730.17 1244.30L730.44 1245.30L730.71 1246.30L730.98 1247.30L731.24 1248.30L731.51 1249.30L731.78 1250.30L732.04 1251.30L732.30 1252.30L732.56 1253.30L732.81 1254.30L733.06 1255.30L733.31 1256.30L733.55 1257.30L733.79 1258.30L734.03 1259.30L734.26 1260.30L734.48 1261.30L734.70 1262.30L734.91 1263.30L735.11 1264.30L735.31 1265.30L735.50 1266.30L735.69 1267.30L735.87 1268.30L736.04 1269.30L736.20 1270.30L736.35 1271.30L736.50 1272.30L736.64 1273.30L736.77 1274.30L736.90 1275.30L737.01 1276.30L737.12 1277.30L737.22 1278.30L737.31 1279.30L737.39 1280.30L737.46 1281.30L737.52 1282.30L737.58 1283.30L737.62 1284.30L737.66 1285.30L737.69 1286.30L737.72 1287.30L737.73 1288.30L737.74 1289.30L737.74 1290.30L737.74 1291.30L737.73 1292.30L737.71 1293.30L737.68 1294.30L737.65 1295.30L737.61 1296.30L737.57 1297.30L737.51 1298.30L737.45 1299.30L737.38 1300.30L737.31 1301.30L737.22 1302.30L737.13 1303.30L737.03 1304.30L736.92 1305.30L736.80 1306.30L736.67 1307.30L736.53 1308.30L736.38 1309.30L736.22 1310.30L736.06 1311.30L735.88 1312.30L735.69 1313.30L735.50 1314.30L735.29 1315.30L735.08 1316.30L734.86 1317.30L734.63 1318.30L734.39 1319.30L734.15 1320.30L733.89 1321.30L733.63 1322.30L733.36 1323.30L733.09 1324.30L732.80 1325.30L732.51 1326.30L732.21 1327.30L731.91 1328.30L731.60 1329.30L731.28 1330.30L730.95 1331.30L730.62 1332.30L730.29 1333.30L729.94 1334.30L729.60 1335.30L729.25 1336.30L728.89 1337.30L728.53 1338.30L728.16 1339.30L727.79 1340.30L727.42 1341.30L727.04 1342.30L726.66 1343.30L726.28 1344.30L725.90 1345.30L725.51 1346.30L725.13 1347.30L724.74 1348.30L724.35 1349.30L723.96 1350.30L723.57 1351.30L723.19 1352.30L722.80 1353.30L722.41 1354.30L722.03 1355.30L721.65 1356.30L721.27 1357.30L720.89 1358.30L720.52 1359.30L720.14 1360.30L719.77 1361.30L719.41 1362.30L719.04 1363.30L718.68 1364.30L718.32 1365.30L717.97 1366.30L717.61 1367.30L717.26 1368.30L716.91 1369.30L716.57 1370.30L716.23 1371.30L715.89 1372.30L715.55 1373.30L715.22 1374.30L714.89 1375.30L714.56 1376.30L714.24 1377.30L713.92 1378.30L713.61 1379.30L713.30 1380.30L712.99 1381.30L712.69 1382.30L712.40 1383.30L712.11 1384.30L711.83 1385.30L711.55 1386.30L711.28 1387.30L711.02 1388.30L710.77 1389.30L710.52 1390.30L710.28 1391.30L710.05 1392.30L709.83 1393.30L709.61 1394.30L709.41 1395.30L709.21 1396.30L709.02 1397.30L708.83 1398.30L708.66 1399.30L708.49 1400.30L708.32 1401.30L708.17 1402.30L708.02 1403.30L707.88 1404.30L707.75 1405.30L707.62 1406.30L707.50 1407.30L707.38 1408.30L707.28 1409.30L707.17 1410.30L707.08 1411.30L706.98 1412.30L706.90 1413.30L706.81 1414.30L706.72 1415.30L706.64 1416.30L706.56 1417.30L706.49 1418.30L706.42 1419.30L706.35 1420.30L706.29 1421.30L706.23 1422.30L706.18 1423.30L706.13 1424.30L706.09 1425.30L706.05 1426.30L706.03 1427.30L706.01 1428.30L706.00 1428.80L697.00 1428.80L696.99 1428.30L696.97 1427.30L696.95 1426.30L696.91 1425.30L696.87 1424.30L696.82 1423.30L696.77 1422.30L696.71 1421.30L696.65 1420.30L696.58 1419.30L696.51 1418.30L696.44 1417.30L696.36 1416.30L696.28 1415.30L696.19 1414.30L696.10 1413.30L696.02 1412.30L695.92 1411.30L695.83 1410.30L695.72 1409.30L695.62 1408.30L695.50 1407.30L695.38 1406.30L695.25 1405.30L695.12 1404.30L694.98 1403.30L694.83 1402.30L694.68 1401.30L694.51 1400.30L694.34 1399.30L694.17 1398.30L693.98 1397.30L693.79 1396.30L693.59 1395.30L693.39 1394.30L693.17 1393.30L692.95 1392.30L692.72 1391.30L692.48 1390.30L692.23 1389.30L691.98 1388.30L691.72 1387.30L691.45 1386.30L691.17 1385.30L690.89 1384.30L690.60 1383.30L690.31 1382.30L690.01 1381.30L689.70 1380.30L689.39 1379.30L689.08 1378.30L688.76 1377.30L688.44 1376.30L688.11 1375.30L687.78 1374.30L687.45 1373.30L687.11 1372.30L686.77 1371.30L686.43 1370.30L686.09 1369.30L685.74 1368.30L685.39 1367.30L685.03 1366.30L684.68 1365.30L684.32 1364.30L683.96 1363.30L683.59 1362.30L683.23 1361.30L682.86 1360.30L682.48 1359.30L682.11 1358.30L681.73 1357.30L681.35 1356.30L680.97 1355.30L680.59 1354.30L680.20 1353.30L679.81 1352.30L679.43 1351.30L679.04 1350.30L678.65 1349.30L678.26 1348.30L677.87 1347.30L677.49 1346.30L677.10 1345.30L676.72 1344.30L676.34 1343.30L675.96 1342.30L675.58 1341.30L675.21 1340.30L674.84 1339.30L674.47 1338.30L674.11 1337.30L673.75 1336.30L673.40 1335.30L673.06 1334.30L672.71 1333.30L672.38 1332.30L672.05 1331.30L671.72 1330.30L671.40 1329.30L671.09 1328.30L670.79 1327.30L670.49 1326.30L670.20 1325.30L669.91 1324.30L669.64 1323.30L669.37 1322.30L669.11 1321.30L668.85 1320.30L668.61 1319.30L668.37 1318.30L668.14 1317.30L667.92 1316.30L667.71 1315.30L667.50 1314.30L667.31 1313.30L667.12 1312.30L666.94 1311.30L666.78 1310.30L666.62 1309.30L666.47 1308.30L666.33 1307.30L666.20 1306.30L666.08 1305.30L665.97 1304.30L665.87 1303.30L665.78 1302.30L665.69 1301.30L665.62 1300.30L665.55 1299.30L665.49 1298.30L665.43 1297.30L665.39 1296.30L665.35 1295.30L665.32 1294.30L665.29 1293.30L665.27 1292.30L665.26 1291.30L665.26 1290.30L665.26 1289.30L665.27 1288.30L665.28 1287.30L665.31 1286.30L665.34 1285.30L665.38 1284.30L665.42 1283.30L665.48 1282.30L665.54 1281.30L665.61 1280.30L665.69 1279.30L665.78 1278.30L665.88 1277.30L665.99 1276.30L666.10 1275.30L666.23 1274.30L666.36 1273.30L666.50 1272.30L666.65 1271.30L666.80 1270.30L666.96 1269.30L667.13 1268.30L667.31 1267.30L667.50 1266.30L667.69 1265.30L667.89 1264.30L668.09 1263.30L668.30 1262.30L668.52 1261.30L668.74 1260.30L668.97 1259.30L669.21 1258.30L669.45 1257.30L669.69 1256.30L669.94 1255.30L670.19 1254.30L670.44 1253.30L670.70 1252.30L670.96 1251.30L671.22 1250.30L671.49 1249.30L671.76 1248.30L672.02 1247.30L672.29 1246.30L672.56 1245.30L672.83 1244.30L673.10 1243.30L673.37 1242.30L673.63 1241.30L673.90 1240.30L674.16 1239.30L674.42 1238.30L674.67 1237.30L674.92 1236.30L675.17 1235.30L675.41 1234.30L675.65 1233.30L675.89 1232.30L676.11 1231.30L676.34 1230.30L676.55 1229.30L676.76 1228.30L676.97 1227.30L677.17 1226.30L677.36 1225.30L677.54 1224.30L677.72 1223.30L677.89 1222.30L678.05 1221.30L678.21 1220.30L678.36 1219.30L678.50 1218.30L678.63 1217.30L678.76 1216.30L678.88 1215.30L678.99 1214.30L679.10 1213.30L679.20 1212.30L679.29 1211.30L679.37 1210.30L679.45 1209.30L679.52 1208.30L679.59 1207.30L679.65 1206.30L679.71 1205.30L679.75 1204.30L679.80 1203.30L679.83 1202.30L679.87 1201.30L679.89 1200.30L679.91 1199.30L679.93 1198.30L679.93 1197.30L679.94 1196.30L679.93 1195.30L679.92 1194.30L679.91 1193.30L679.88 1192.30L679.86 1191.30L679.82 1190.30L679.78 1189.30L679.73 1188.30L679.68 1187.30L679.62 1186.30L679.55 1185.30L679.48 1184.30L679.40 1183.30L679.31 1182.30L679.22 1181.30L679.12 1180.30L679.01 1179.30L678.90 1178.30L678.78 1177.30L678.65 1176.30L678.51 1175.30L678.37 1174.30L678.22 1173.30L678.06 1172.30L677.89 1171.30L677.72 1170.30L677.53 1169.30L677.34 1168.30L677.14 1167.30L676.93 1166.30L676.71 1165.30L676.48 1164.30L676.25 1163.30L676.00 1162.30L675.75 1161.30L675.50 1160.30L675.24 1159.30L674.97 1158.30L674.70 1157.30L674.43 1156.30L674.16 1155.30L673.89 1154.30L673.61 1153.30L673.34 1152.30L673.07 1151.30L672.80 1150.30L672.53 1149.30L672.27 1148.30L672.00 1147.30L671.74 1146.30L671.48 1145.30L671.22 1144.30L670.96 1143.30L670.70 1142.30L670.43 1141.30L670.16 1140.30L669.89 1139.30L669.61 1138.30L669.32 1137.30L669.03 1136.30L668.73 1135.30L668.41 1134.30L668.09 1133.30L667.76 1132.30L667.41 1131.30L667.05 1130.30L666.68 1129.30L666.30 1128.30L665.91 1127.30L665.50 1126.30L665.08 1125.30L664.65 1124.30L664.21 1123.30L663.75 1122.30L663.29 1121.30L662.81 1120.30L662.32 1119.30L661.81 1118.30L661.30 1117.30L660.78 1116.30L660.24 1115.30L659.70 1114.30L659.14 1113.30L658.57 1112.30L657.99 1111.30L657.40 1110.30L656.80 1109.30L656.19 1108.30L655.57 1107.30L654.94 1106.30L654.30 1105.30L653.65 1104.30L652.99 1103.30L652.32 1102.30L651.64 1101.30L650.96 1100.30L650.26 1099.30L649.56 1098.30L648.85 1097.30L648.13 1096.30L647.41 1095.30L646.67 1094.30L645.94 1093.30L645.20 1092.30L644.45 1091.30L643.70 1090.30L642.94 1089.30L642.18 1088.30L641.42 1087.30L640.66 1086.30L639.89 1085.30L639.13 1084.30L638.36 1083.30L637.59 1082.30L636.83 1081.30L636.06 1080.30L635.30 1079.30L634.54 1078.30L633.78 1077.30L633.02 1076.30L632.27 1075.30L631.53 1074.30L630.78 1073.30L630.05 1072.30L629.32 1071.30L628.59 1070.30L627.87 1069.30L627.16 1068.30L626.46 1067.30L625.76 1066.30L625.07 1065.30L624.40 1064.30L623.73 1063.30L623.07 1062.30L622.43 1061.30L621.79 1060.30L621.17 1059.30L620.57 1058.30L619.98 1057.30L619.41 1056.30L618.85 1055.30L618.31 1054.30L617.80 1053.30L617.30 1052.30L616.82 1051.30L616.37 1050.30L615.94 1049.30L615.54 1048.30L615.15 1047.30L614.80 1046.30L614.47 1045.30L614.16 1044.30L613.88 1043.30L613.62 1042.30L613.39 1041.30L613.18 1040.30L612.99 1039.30L612.83 1038.30L612.69 1037.30L612.57 1036.30L612.48 1035.30L612.40 1034.30L612.35 1033.30L612.32 1032.30L612.31 1031.30L612.32 1030.30L612.36 1029.30L612.41 1028.30L612.49 1027.30L612.59 1026.30L612.72 1025.30L612.87 1024.30L613.04 1023.30L613.24 1022.30L613.47 1021.30L613.72 1020.30L614.00 1019.30L614.30 1018.30L614.64 1017.30L615.00 1016.30L615.39 1015.30L615.81 1014.30L616.25 1013.30L616.72 1012.30L617.22 1011.30L617.75 1010.30L618.29 1009.30L618.87 1008.30L619.46 1007.30L620.08 1006.30L620.73 1005.30L621.39 1004.30L622.08 1003.30L622.78 1002.30L623.51 1001.30L624.26 1000.30L625.02 999.30L625.81 998.30L626.61 997.30L627.44 996.30L628.28 995.30L629.14 994.30L630.01 993.30L630.91 992.30L631.82 991.30L632.75 990.30L633.70 989.30L634.66 988.30L635.63 987.30L636.62 986.30L637.62 985.30L638.64 984.30L639.66 983.30L640.70 982.30L641.74 981.30L642.79 980.30L643.84 979.30L644.90 978.30L645.96 977.30L647.02 976.30L648.08 975.30L649.13 974.30L650.18 973.30L651.22 972.30L652.27 971.30L653.31 970.30L654.35 969.30L655.39 968.30L656.42 967.30L657.45 966.30L658.49 965.30L659.54 964.30L660.60 963.30L661.67 962.30L662.78 961.30L663.91 960.30L665.09 959.30L666.31 958.30L667.60 957.30Z" fill="#689a9a" stroke="#393939" stroke-width="1.8" stroke-linejoin="round"/>
<line x1="250.0" y1="975.3" x2="250.0" y2="1405.3" stroke="#393939" stroke-width="1.7"/>
<rect x="243.75" y="1023.3" width="12.5" height="215.10" fill="#fdc998" stroke="#393939" stroke-width="1.7"/>
<circle cx="250.0" cy="1057.8" r="3.4" fill="#fff" stroke="#393939" stroke-width="0.6"/>
<line x1="476.0" y1="997.3" x2="476.0" y2="1410.8" stroke="#393939" stroke-width="1.7"/>
<rect x="469.75" y="1027.5" width="12.5" height="204.50" fill="#9fd99f" stroke="#393939" stroke-width="1.7"/>
<circle cx="476.0" cy="1058.1" r="3.4" fill="#fff" stroke="#393939" stroke-width="0.6"/>
<line x1="701.6" y1="983.5" x2="701.6" y2="1395.4" stroke="#393939" stroke-width="1.7"/>
<rect x="695.35" y="1024.3" width="12.5" height="210.50" fill="#c3b1d8" stroke="#393939" stroke-width="1.7"/>
<circle cx="701.6" cy="1063.5" r="3.4" fill="#fff" stroke="#393939" stroke-width="0.6"/>
<path d="M137.05 922.8V1470.4H815.4" fill="none" stroke="#000" stroke-width="2.4"/>
<g stroke="#000" stroke-width="2.4"><line x1="137" y1="922.80" x2="147.8" y2="922.80"/><line x1="137" y1="1007.00" x2="147.8" y2="1007.00"/><line x1="137" y1="1091.20" x2="147.8" y2="1091.20"/><line x1="137" y1="1175.40" x2="147.8" y2="1175.40"/><line x1="137" y1="1259.60" x2="147.8" y2="1259.60"/><line x1="137" y1="1343.80" x2="147.8" y2="1343.80"/><line x1="137" y1="1428.00" x2="147.8" y2="1428.00"/></g>
<g font-family='"Liberation Serif", serif' font-size="44.5" fill="#000"><text x="125.5" y="935.70" text-anchor="end">0.0</text><text x="125.5" y="1019.90" text-anchor="end">-0.5</text><text x="125.5" y="1104.10" text-anchor="end">-1.0</text><text x="125.5" y="1188.30" text-anchor="end">-1.5</text><text x="125.5" y="1272.50" text-anchor="end">-2.0</text><text x="125.5" y="1356.70" text-anchor="end">-2.5</text><text x="125.5" y="1440.90" text-anchor="end">-3.0</text></g>
<text x="159.7" y="1515.8" font-family='"Liberation Serif", serif' font-size="45.3" textLength="177.4" lengthAdjust="spacingAndGlyphs">JCJ-01-01</text>
<text x="385.9" y="1515.8" font-family='"Liberation Serif", serif' font-size="45.3" textLength="180.4" lengthAdjust="spacingAndGlyphs">JCJ-01-02</text>
<text x="611.3" y="1515.8" font-family='"Liberation Serif", serif' font-size="45.3" textLength="178.9" lengthAdjust="spacingAndGlyphs">JCJ-01-03</text>
<text x="325.4" y="1583.9" font-family='"Liberation Serif", serif' font-size="44.8" textLength="300.8" lengthAdjust="spacingAndGlyphs">Monitoring point</text>
<text transform="translate(40.7 1389.4) rotate(-90)" font-family='"Liberation Serif", serif' font-size="45.3" textLength="381.6" lengthAdjust="spacingAndGlyphs">Settling capacity/mm</text>
<text x="-0.9" y="1651.8" font-family='"Liberation Serif", serif' font-size="45.0" textLength="355.4" lengthAdjust="spacingAndGlyphs">(e) Settlement range</text>
</svg>
</body></html>
